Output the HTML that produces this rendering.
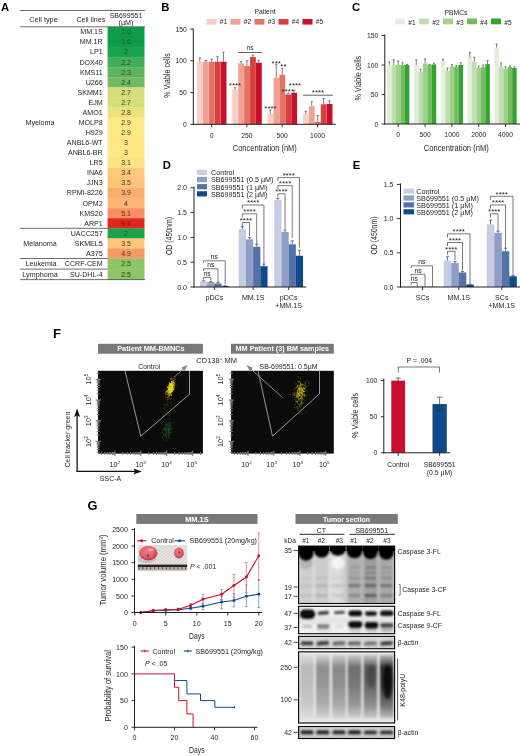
<!DOCTYPE html><html><head><meta charset="utf-8"><style>html,body{margin:0;padding:0;background:#fff}svg{display:block;will-change:transform}text{font-family:"Liberation Sans",sans-serif}</style></head><body>
<svg width="520" height="756" viewBox="0 0 520 756">
<rect width="520" height="756" fill="#fff"/>
<g fill="#231f20">
<text x="0.9" y="10.6" font-size="11.3" font-weight="bold" fill="#000">A</text>
<line x1="20" y1="10.5" x2="145" y2="10.5" stroke="#4a4a4a" stroke-width="0.8" />
<line x1="20" y1="26.8" x2="145" y2="26.8" stroke="#4a4a4a" stroke-width="0.8" />
<text x="43.5" y="22.1" font-size="7.3" text-anchor="middle">Cell type</text>
<text x="90.8" y="22.1" font-size="7.1" text-anchor="middle">Cell lines</text>
<text x="126" y="18" font-size="7" text-anchor="middle">SB699551</text>
<text x="126" y="24.8" font-size="7.2" text-anchor="middle">(µM)</text>
<rect x="107.60" y="26.90" width="36.90" height="10.37" fill="#0f9b48" />
<rect x="107.60" y="36.97" width="36.90" height="10.37" fill="#0f9b48" />
<rect x="107.60" y="47.04" width="36.90" height="10.37" fill="#1aa14b" />
<rect x="107.60" y="57.11" width="36.90" height="10.37" fill="#41ae5a" />
<rect x="107.60" y="67.18" width="36.90" height="10.37" fill="#5cb460" />
<rect x="107.60" y="77.25" width="36.90" height="10.37" fill="#73ba66" />
<rect x="107.60" y="87.32" width="36.90" height="10.37" fill="#d3dc7b" />
<rect x="107.60" y="97.39" width="36.90" height="10.37" fill="#d6dd7c" />
<rect x="107.60" y="107.46" width="36.90" height="10.37" fill="#ece27f" />
<rect x="107.60" y="117.53" width="36.90" height="10.37" fill="#fde984" />
<rect x="107.60" y="127.60" width="36.90" height="10.37" fill="#fde984" />
<rect x="107.60" y="137.67" width="36.90" height="10.37" fill="#ffe783" />
<rect x="107.60" y="147.74" width="36.90" height="10.37" fill="#ffe783" />
<rect x="107.60" y="157.81" width="36.90" height="10.37" fill="#fee182" />
<rect x="107.60" y="167.88" width="36.90" height="10.37" fill="#fdc97c" />
<rect x="107.60" y="177.95" width="36.90" height="10.37" fill="#fdc47a" />
<rect x="107.60" y="188.02" width="36.90" height="10.37" fill="#fbad70" />
<rect x="107.60" y="198.09" width="36.90" height="10.37" fill="#fbb676" />
<rect x="107.60" y="208.16" width="36.90" height="10.37" fill="#f78f60" />
<rect x="107.60" y="218.23" width="36.90" height="10.37" fill="#e1261f" />
<rect x="107.60" y="228.30" width="36.90" height="10.37" fill="#1aa14b" />
<rect x="107.60" y="238.37" width="36.90" height="10.37" fill="#fdc67b" />
<rect x="107.60" y="248.44" width="36.90" height="10.37" fill="#f89a66" />
<rect x="107.60" y="258.51" width="36.90" height="10.90" fill="#8dc567" />
<rect x="107.60" y="269.11" width="36.90" height="10.80" fill="#8dc567" />
<text x="102.7" y="34.34" font-size="7.1" text-anchor="end">MM.1S</text>
<text x="126" y="34.34" font-size="7" text-anchor="middle" fill="#0b5a2c">1.6</text>
<text x="102.7" y="44.4" font-size="7.1" text-anchor="end">MM.1R</text>
<text x="126" y="44.4" font-size="7" text-anchor="middle" fill="#0b5a2c">1.6</text>
<text x="102.7" y="54.48" font-size="7.1" text-anchor="end">LP1</text>
<text x="126" y="54.48" font-size="7" text-anchor="middle" fill="#0b5a2c">2</text>
<text x="102.7" y="64.55" font-size="7.1" text-anchor="end">DOX40</text>
<text x="126" y="64.55" font-size="7" text-anchor="middle" fill="#3a3a1a">2.2</text>
<text x="102.7" y="74.62" font-size="7.1" text-anchor="end">KMS11</text>
<text x="126" y="74.62" font-size="7" text-anchor="middle" fill="#3a3a1a">2.3</text>
<text x="102.7" y="84.69" font-size="7.1" text-anchor="end">U266</text>
<text x="126" y="84.69" font-size="7" text-anchor="middle" fill="#3a3a1a">2.4</text>
<text x="102.7" y="94.76" font-size="7.1" text-anchor="end">SKMM1</text>
<text x="126" y="94.76" font-size="7" text-anchor="middle" fill="#3a3a1a">2.7</text>
<text x="102.7" y="104.83" font-size="7.1" text-anchor="end">EJM</text>
<text x="126" y="104.83" font-size="7" text-anchor="middle" fill="#3a3a1a">2.7</text>
<text x="102.7" y="114.9" font-size="7.1" text-anchor="end">AMO1</text>
<text x="126" y="114.9" font-size="7" text-anchor="middle" fill="#3a3a1a">2.8</text>
<text x="102.7" y="124.97" font-size="7.1" text-anchor="end">MOLP8</text>
<text x="126" y="124.97" font-size="7" text-anchor="middle" fill="#3a3a1a">2.9</text>
<text x="102.7" y="135.03" font-size="7.1" text-anchor="end">H929</text>
<text x="126" y="135.03" font-size="7" text-anchor="middle" fill="#3a3a1a">2.9</text>
<text x="102.7" y="145.11" font-size="7.1" text-anchor="end">ANBL6-WT</text>
<text x="126" y="145.11" font-size="7" text-anchor="middle" fill="#3a3a1a">3</text>
<text x="102.7" y="155.18" font-size="7.1" text-anchor="end">ANBL6-BR</text>
<text x="126" y="155.18" font-size="7" text-anchor="middle" fill="#3a3a1a">3</text>
<text x="102.7" y="165.25" font-size="7.1" text-anchor="end">LR5</text>
<text x="126" y="165.25" font-size="7" text-anchor="middle" fill="#3a3a1a">3.1</text>
<text x="102.7" y="175.32" font-size="7.1" text-anchor="end">INA6</text>
<text x="126" y="175.32" font-size="7" text-anchor="middle" fill="#3a3a1a">3.4</text>
<text x="102.7" y="185.39" font-size="7.1" text-anchor="end">JJN3</text>
<text x="126" y="185.39" font-size="7" text-anchor="middle" fill="#3a3a1a">3.5</text>
<text x="102.7" y="195.46" font-size="7.1" text-anchor="end">RPMI-8226</text>
<text x="126" y="195.46" font-size="7" text-anchor="middle" fill="#3a3a1a">3.9</text>
<text x="102.7" y="205.53" font-size="7.1" text-anchor="end">OPM2</text>
<text x="126" y="205.53" font-size="7" text-anchor="middle" fill="#3a3a1a">4</text>
<text x="102.7" y="215.59" font-size="7.1" text-anchor="end">KMS20</text>
<text x="126" y="215.59" font-size="7" text-anchor="middle" fill="#3a3a1a">5.1</text>
<text x="102.7" y="225.67" font-size="7.1" text-anchor="end">ARP1</text>
<text x="126" y="225.67" font-size="7" text-anchor="middle" fill="#7a1010">9.4</text>
<text x="102.7" y="235.74" font-size="7.1" text-anchor="end">UACC257</text>
<text x="126" y="235.74" font-size="7" text-anchor="middle" fill="#0b5a2c">2</text>
<text x="102.7" y="245.81" font-size="7.1" text-anchor="end">SKMEL5</text>
<text x="126" y="245.81" font-size="7" text-anchor="middle" fill="#3a3a1a">3.5</text>
<text x="102.7" y="255.88" font-size="7.1" text-anchor="end">A375</text>
<text x="126" y="255.88" font-size="7" text-anchor="middle" fill="#3a3a1a">4.9</text>
<text x="102.7" y="266.21" font-size="7.1" text-anchor="end">CCRF-CEM</text>
<text x="126" y="266.21" font-size="7" text-anchor="middle" fill="#3a3a1a">2.5</text>
<text x="102.7" y="276.76" font-size="7.1" text-anchor="end">SU-DHL-4</text>
<text x="126" y="276.76" font-size="7" text-anchor="middle" fill="#3a3a1a">2.5</text>
<text x="40" y="124.97" font-size="7.2" text-anchor="middle">Myeloma</text>
<text x="40" y="245.81" font-size="7.2" text-anchor="middle">Melanoma</text>
<text x="41" y="266.21" font-size="7.2" text-anchor="middle">Leukemia</text>
<text x="40" y="276.76" font-size="7.2" text-anchor="middle">Lymphoma</text>
<line x1="20" y1="228.3" x2="107.6" y2="228.3" stroke="#4a4a4a" stroke-width="0.8" />
<line x1="20" y1="258.51" x2="107.6" y2="258.51" stroke="#4a4a4a" stroke-width="0.8" />
<line x1="20" y1="269.11" x2="107.6" y2="269.11" stroke="#4a4a4a" stroke-width="0.8" />
<line x1="20" y1="279.61" x2="145" y2="279.61" stroke="#4a4a4a" stroke-width="0.8" />
<text x="161.3" y="10.6" font-size="11.3" font-weight="bold" fill="#000">B</text>
<text x="265" y="14.2" font-size="6.8" text-anchor="middle">Patient</text>
<rect x="206.50" y="19.00" width="10.00" height="5.60" fill="#f9cec7" />
<text x="219.8" y="24.3" font-size="6.6">#1</text>
<rect x="230.50" y="19.00" width="10.00" height="5.60" fill="#f0a296" />
<text x="243.8" y="24.3" font-size="6.6">#2</text>
<rect x="254.50" y="19.00" width="10.00" height="5.60" fill="#e57262" />
<text x="267.8" y="24.3" font-size="6.6">#3</text>
<rect x="278.50" y="19.00" width="10.00" height="5.60" fill="#d8403d" />
<text x="291.8" y="24.3" font-size="6.6">#4</text>
<rect x="302.50" y="19.00" width="10.00" height="5.60" fill="#c8102e" />
<text x="315.8" y="24.3" font-size="6.6">#5</text>
<rect x="197.00" y="61.75" width="5.80" height="62.55" fill="#f9cec7" />
<line x1="199.785" y1="57.942499999999995" x2="199.785" y2="61.7525" stroke="#4a4a4a" stroke-width="0.7" />
<line x1="198.585" y1="57.942499999999995" x2="200.98499999999999" y2="57.942499999999995" stroke="#4a4a4a" stroke-width="0.7" />
<rect x="202.92" y="61.75" width="5.80" height="62.55" fill="#f0a296" />
<line x1="205.70499999999998" y1="60.482499999999995" x2="205.70499999999998" y2="61.7525" stroke="#4a4a4a" stroke-width="0.7" />
<line x1="204.505" y1="60.482499999999995" x2="206.90499999999997" y2="60.482499999999995" stroke="#4a4a4a" stroke-width="0.7" />
<rect x="208.84" y="61.75" width="5.80" height="62.55" fill="#e57262" />
<line x1="211.625" y1="59.21249999999999" x2="211.625" y2="61.7525" stroke="#4a4a4a" stroke-width="0.7" />
<line x1="210.425" y1="59.21249999999999" x2="212.825" y2="59.21249999999999" stroke="#4a4a4a" stroke-width="0.7" />
<rect x="214.76" y="61.75" width="5.80" height="62.55" fill="#d8403d" />
<line x1="217.545" y1="56.6725" x2="217.545" y2="61.7525" stroke="#4a4a4a" stroke-width="0.7" />
<line x1="216.345" y1="56.6725" x2="218.74499999999998" y2="56.6725" stroke="#4a4a4a" stroke-width="0.7" />
<rect x="220.68" y="61.75" width="5.80" height="62.55" fill="#c8102e" />
<line x1="223.465" y1="52.22749999999999" x2="223.465" y2="61.7525" stroke="#4a4a4a" stroke-width="0.7" />
<line x1="222.26500000000001" y1="52.22749999999999" x2="224.665" y2="52.22749999999999" stroke="#4a4a4a" stroke-width="0.7" />
<rect x="232.30" y="89.57" width="5.80" height="34.73" fill="#f9cec7" />
<line x1="235.085" y1="87.66049999999998" x2="235.085" y2="89.56549999999999" stroke="#4a4a4a" stroke-width="0.7" />
<line x1="233.88500000000002" y1="87.66049999999998" x2="236.285" y2="87.66049999999998" stroke="#4a4a4a" stroke-width="0.7" />
<rect x="238.22" y="63.34" width="5.80" height="60.96" fill="#f0a296" />
<line x1="241.005" y1="61.434999999999995" x2="241.005" y2="63.339999999999996" stroke="#4a4a4a" stroke-width="0.7" />
<line x1="239.805" y1="61.434999999999995" x2="242.20499999999998" y2="61.434999999999995" stroke="#4a4a4a" stroke-width="0.7" />
<rect x="244.14" y="65.88" width="5.80" height="58.42" fill="#e57262" />
<line x1="246.925" y1="60.8" x2="246.925" y2="65.88" stroke="#4a4a4a" stroke-width="0.7" />
<line x1="245.72500000000002" y1="60.8" x2="248.125" y2="60.8" stroke="#4a4a4a" stroke-width="0.7" />
<rect x="250.06" y="56.99" width="5.80" height="67.31" fill="#d8403d" />
<line x1="252.845" y1="55.084999999999994" x2="252.845" y2="56.989999999999995" stroke="#4a4a4a" stroke-width="0.7" />
<line x1="251.645" y1="55.084999999999994" x2="254.045" y2="55.084999999999994" stroke="#4a4a4a" stroke-width="0.7" />
<rect x="255.98" y="62.70" width="5.80" height="61.59" fill="#c8102e" />
<line x1="258.76500000000004" y1="60.16499999999999" x2="258.76500000000004" y2="62.705" stroke="#4a4a4a" stroke-width="0.7" />
<line x1="257.56500000000005" y1="60.16499999999999" x2="259.96500000000003" y2="60.16499999999999" stroke="#4a4a4a" stroke-width="0.7" />
<rect x="267.60" y="113.82" width="5.80" height="10.48" fill="#f9cec7" />
<line x1="270.38500000000005" y1="110.0125" x2="270.38500000000005" y2="113.82249999999999" stroke="#4a4a4a" stroke-width="0.7" />
<line x1="269.18500000000006" y1="110.0125" x2="271.58500000000004" y2="110.0125" stroke="#4a4a4a" stroke-width="0.7" />
<rect x="273.52" y="77.69" width="5.80" height="46.61" fill="#f0a296" />
<line x1="276.30500000000006" y1="64.356" x2="276.30500000000006" y2="77.691" stroke="#4a4a4a" stroke-width="0.7" />
<line x1="275.1050000000001" y1="64.356" x2="277.50500000000005" y2="64.356" stroke="#4a4a4a" stroke-width="0.7" />
<rect x="279.44" y="74.77" width="5.80" height="49.53" fill="#e57262" />
<line x1="282.225" y1="68.41999999999999" x2="282.225" y2="74.77" stroke="#4a4a4a" stroke-width="0.7" />
<line x1="281.02500000000003" y1="68.41999999999999" x2="283.425" y2="68.41999999999999" stroke="#4a4a4a" stroke-width="0.7" />
<rect x="285.36" y="94.45" width="5.80" height="29.84" fill="#d8403d" />
<line x1="288.14500000000004" y1="93.185" x2="288.14500000000004" y2="94.455" stroke="#4a4a4a" stroke-width="0.7" />
<line x1="286.94500000000005" y1="93.185" x2="289.345" y2="93.185" stroke="#4a4a4a" stroke-width="0.7" />
<rect x="291.28" y="92.74" width="5.80" height="31.56" fill="#c8102e" />
<line x1="294.06500000000005" y1="90.2005" x2="294.06500000000005" y2="92.7405" stroke="#4a4a4a" stroke-width="0.7" />
<line x1="292.86500000000007" y1="90.2005" x2="295.26500000000004" y2="90.2005" stroke="#4a4a4a" stroke-width="0.7" />
<rect x="303.00" y="114.46" width="5.80" height="9.84" fill="#f9cec7" />
<line x1="305.785" y1="111.2825" x2="305.785" y2="114.4575" stroke="#4a4a4a" stroke-width="0.7" />
<line x1="304.58500000000004" y1="111.2825" x2="306.985" y2="111.2825" stroke="#4a4a4a" stroke-width="0.7" />
<rect x="308.92" y="106.20" width="5.80" height="18.10" fill="#f0a296" />
<line x1="311.70500000000004" y1="101.7575" x2="311.70500000000004" y2="106.2025" stroke="#4a4a4a" stroke-width="0.7" />
<line x1="310.50500000000005" y1="101.7575" x2="312.90500000000003" y2="101.7575" stroke="#4a4a4a" stroke-width="0.7" />
<rect x="314.84" y="121.95" width="5.80" height="2.35" fill="#e57262" />
<line x1="317.625" y1="115.6005" x2="317.625" y2="121.95049999999999" stroke="#4a4a4a" stroke-width="0.7" />
<line x1="316.425" y1="115.6005" x2="318.825" y2="115.6005" stroke="#4a4a4a" stroke-width="0.7" />
<rect x="320.76" y="104.30" width="5.80" height="20.00" fill="#d8403d" />
<line x1="323.545" y1="98.5825" x2="323.545" y2="104.2975" stroke="#4a4a4a" stroke-width="0.7" />
<line x1="322.345" y1="98.5825" x2="324.745" y2="98.5825" stroke="#4a4a4a" stroke-width="0.7" />
<rect x="326.68" y="103.98" width="5.80" height="20.32" fill="#c8102e" />
<line x1="329.46500000000003" y1="100.80499999999999" x2="329.46500000000003" y2="103.97999999999999" stroke="#4a4a4a" stroke-width="0.7" />
<line x1="328.26500000000004" y1="100.80499999999999" x2="330.665" y2="100.80499999999999" stroke="#4a4a4a" stroke-width="0.7" />
<line x1="193.3" y1="28.5" x2="193.3" y2="124.7" stroke="#231f20" stroke-width="1" />
<line x1="192.8" y1="124.3" x2="335.8" y2="124.3" stroke="#231f20" stroke-width="1" />
<line x1="190.3" y1="124.3" x2="193.3" y2="124.3" stroke="#231f20" stroke-width="0.9" />
<text transform="translate(186.70000000000002 126.89999999999999) scale(0.93 1)" font-size="7.3" text-anchor="end">0</text>
<line x1="190.3" y1="92.55" x2="193.3" y2="92.55" stroke="#231f20" stroke-width="0.9" />
<text transform="translate(186.70000000000002 95.14999999999999) scale(0.93 1)" font-size="7.3" text-anchor="end">50</text>
<line x1="190.3" y1="60.8" x2="193.3" y2="60.8" stroke="#231f20" stroke-width="0.9" />
<text transform="translate(186.70000000000002 63.4) scale(0.93 1)" font-size="7.3" text-anchor="end">100</text>
<line x1="190.3" y1="29.049999999999997" x2="193.3" y2="29.049999999999997" stroke="#231f20" stroke-width="0.9" />
<text transform="translate(186.70000000000002 31.65) scale(0.93 1)" font-size="7.3" text-anchor="end">150</text>
<line x1="211.60000000000002" y1="124.3" x2="211.60000000000002" y2="127.3" stroke="#231f20" stroke-width="0.9" />
<text transform="translate(211.60000000000002 137.6) scale(0.93 1)" font-size="7.3" text-anchor="middle">0</text>
<line x1="246.90000000000003" y1="124.3" x2="246.90000000000003" y2="127.3" stroke="#231f20" stroke-width="0.9" />
<text transform="translate(246.90000000000003 137.6) scale(0.93 1)" font-size="7.3" text-anchor="middle">250</text>
<line x1="282.20000000000005" y1="124.3" x2="282.20000000000005" y2="127.3" stroke="#231f20" stroke-width="0.9" />
<text transform="translate(282.20000000000005 137.6) scale(0.93 1)" font-size="7.3" text-anchor="middle">500</text>
<line x1="317.6" y1="124.3" x2="317.6" y2="127.3" stroke="#231f20" stroke-width="0.9" />
<text transform="translate(317.6 137.6) scale(0.93 1)" font-size="7.3" text-anchor="middle">1000</text>
<text transform="translate(169.6 75.5) rotate(-90)" font-size="9.4" text-anchor="middle" textLength="44.5" lengthAdjust="spacingAndGlyphs">% Viable cells</text>
<text transform="translate(264.8 151)" font-size="9.4" text-anchor="middle" textLength="64" lengthAdjust="spacingAndGlyphs">Concentration (nM)</text>
<line x1="238.3" y1="52.5" x2="262" y2="52.5" stroke="#231f20" stroke-width="0.7" />
<text x="250" y="49.8" font-size="6.6" text-anchor="middle">ns</text>
<line x1="303" y1="95.2" x2="333" y2="95.2" stroke="#231f20" stroke-width="0.7" />
<text x="318" y="95.2" font-size="8" text-anchor="middle">****</text>
<text x="235" y="87.8" font-size="8" text-anchor="middle">****</text>
<text x="270.5" y="111.2" font-size="8" text-anchor="middle">****</text>
<text x="276.2" y="66.4" font-size="8" text-anchor="middle">***</text>
<text x="283.4" y="69.0" font-size="8" text-anchor="middle">**</text>
<text x="287.8" y="93.6" font-size="8" text-anchor="middle">****</text>
<text x="295" y="88.0" font-size="8" text-anchor="middle">****</text>
<text x="351.9" y="10.6" font-size="11.3" font-weight="bold" fill="#000">C</text>
<text x="456" y="14.6" font-size="6.8" text-anchor="middle">PBMCs</text>
<rect x="395.00" y="18.50" width="10.00" height="5.80" fill="#e3efda" />
<text x="408.3" y="24.5" font-size="6.6">#1</text>
<rect x="419.00" y="18.50" width="10.00" height="5.80" fill="#bfe0ae" />
<text x="432.3" y="24.5" font-size="6.6">#2</text>
<rect x="443.00" y="18.50" width="10.00" height="5.80" fill="#9fd18a" />
<text x="456.3" y="24.5" font-size="6.6">#3</text>
<rect x="467.00" y="18.50" width="10.00" height="5.80" fill="#72bd5d" />
<text x="480.3" y="24.5" font-size="6.6">#4</text>
<rect x="491.00" y="18.50" width="10.00" height="5.80" fill="#33a532" />
<text x="504.3" y="24.5" font-size="6.6">#5</text>
<rect x="387.10" y="65.00" width="4.49" height="59.00" fill="#e3efda" />
<line x1="389.32000000000005" y1="62.050000000000004" x2="389.32000000000005" y2="65.0" stroke="#4a4a4a" stroke-width="0.7" />
<line x1="388.32000000000005" y1="62.050000000000004" x2="390.32000000000005" y2="62.050000000000004" stroke="#4a4a4a" stroke-width="0.7" />
<rect x="391.54" y="65.00" width="4.49" height="59.00" fill="#bfe0ae" />
<line x1="393.76000000000005" y1="59.69" x2="393.76000000000005" y2="65.0" stroke="#4a4a4a" stroke-width="0.7" />
<line x1="392.76000000000005" y1="59.69" x2="394.76000000000005" y2="59.69" stroke="#4a4a4a" stroke-width="0.7" />
<rect x="395.98" y="65.00" width="4.49" height="59.00" fill="#9fd18a" />
<line x1="398.20000000000005" y1="60.870000000000005" x2="398.20000000000005" y2="65.0" stroke="#4a4a4a" stroke-width="0.7" />
<line x1="397.20000000000005" y1="60.870000000000005" x2="399.20000000000005" y2="60.870000000000005" stroke="#4a4a4a" stroke-width="0.7" />
<rect x="400.42" y="65.00" width="4.49" height="59.00" fill="#72bd5d" />
<line x1="402.64000000000004" y1="62.64" x2="402.64000000000004" y2="65.0" stroke="#4a4a4a" stroke-width="0.7" />
<line x1="401.64000000000004" y1="62.64" x2="403.64000000000004" y2="62.64" stroke="#4a4a4a" stroke-width="0.7" />
<rect x="404.86" y="65.00" width="4.49" height="59.00" fill="#33a532" />
<line x1="407.08000000000004" y1="64.41" x2="407.08000000000004" y2="65.0" stroke="#4a4a4a" stroke-width="0.7" />
<line x1="406.08000000000004" y1="64.41" x2="408.08000000000004" y2="64.41" stroke="#4a4a4a" stroke-width="0.7" />
<rect x="414.00" y="65.00" width="4.49" height="59.00" fill="#e3efda" />
<line x1="416.22" y1="59.69" x2="416.22" y2="65.0" stroke="#4a4a4a" stroke-width="0.7" />
<line x1="415.22" y1="59.69" x2="417.22" y2="59.69" stroke="#4a4a4a" stroke-width="0.7" />
<rect x="418.44" y="71.49" width="4.49" height="52.51" fill="#bfe0ae" />
<line x1="420.66" y1="69.13" x2="420.66" y2="71.49000000000001" stroke="#4a4a4a" stroke-width="0.7" />
<line x1="419.66" y1="69.13" x2="421.66" y2="69.13" stroke="#4a4a4a" stroke-width="0.7" />
<rect x="422.88" y="63.53" width="4.49" height="60.47" fill="#9fd18a" />
<line x1="425.1" y1="58.80500000000001" x2="425.1" y2="63.525000000000006" stroke="#4a4a4a" stroke-width="0.7" />
<line x1="424.1" y1="58.80500000000001" x2="426.1" y2="58.80500000000001" stroke="#4a4a4a" stroke-width="0.7" />
<rect x="427.32" y="65.00" width="4.49" height="59.00" fill="#72bd5d" />
<line x1="429.54" y1="64.41" x2="429.54" y2="65.0" stroke="#4a4a4a" stroke-width="0.7" />
<line x1="428.54" y1="64.41" x2="430.54" y2="64.41" stroke="#4a4a4a" stroke-width="0.7" />
<rect x="431.76" y="64.41" width="4.49" height="59.59" fill="#33a532" />
<line x1="433.98" y1="63.230000000000004" x2="433.98" y2="64.41" stroke="#4a4a4a" stroke-width="0.7" />
<line x1="432.98" y1="63.230000000000004" x2="434.98" y2="63.230000000000004" stroke="#4a4a4a" stroke-width="0.7" />
<rect x="440.80" y="61.46" width="4.49" height="62.54" fill="#e3efda" />
<line x1="443.02000000000004" y1="59.10000000000001" x2="443.02000000000004" y2="61.46" stroke="#4a4a4a" stroke-width="0.7" />
<line x1="442.02000000000004" y1="59.10000000000001" x2="444.02000000000004" y2="59.10000000000001" stroke="#4a4a4a" stroke-width="0.7" />
<rect x="445.24" y="70.90" width="4.49" height="53.10" fill="#bfe0ae" />
<line x1="447.46000000000004" y1="67.95" x2="447.46000000000004" y2="70.9" stroke="#4a4a4a" stroke-width="0.7" />
<line x1="446.46000000000004" y1="67.95" x2="448.46000000000004" y2="67.95" stroke="#4a4a4a" stroke-width="0.7" />
<rect x="449.68" y="66.47" width="4.49" height="57.52" fill="#9fd18a" />
<line x1="451.90000000000003" y1="64.70500000000001" x2="451.90000000000003" y2="66.475" stroke="#4a4a4a" stroke-width="0.7" />
<line x1="450.90000000000003" y1="64.70500000000001" x2="452.90000000000003" y2="64.70500000000001" stroke="#4a4a4a" stroke-width="0.7" />
<rect x="454.12" y="66.77" width="4.49" height="57.23" fill="#72bd5d" />
<line x1="456.34000000000003" y1="65.59" x2="456.34000000000003" y2="66.77000000000001" stroke="#4a4a4a" stroke-width="0.7" />
<line x1="455.34000000000003" y1="65.59" x2="457.34000000000003" y2="65.59" stroke="#4a4a4a" stroke-width="0.7" />
<rect x="458.56" y="65.00" width="4.49" height="59.00" fill="#33a532" />
<line x1="460.78000000000003" y1="62.64" x2="460.78000000000003" y2="65.0" stroke="#4a4a4a" stroke-width="0.7" />
<line x1="459.78000000000003" y1="62.64" x2="461.78000000000003" y2="62.64" stroke="#4a4a4a" stroke-width="0.7" />
<rect x="467.60" y="57.51" width="4.49" height="66.49" fill="#e3efda" />
<line x1="469.82000000000005" y1="52.197" x2="469.82000000000005" y2="57.507000000000005" stroke="#4a4a4a" stroke-width="0.7" />
<line x1="468.82000000000005" y1="52.197" x2="470.82000000000005" y2="52.197" stroke="#4a4a4a" stroke-width="0.7" />
<rect x="472.04" y="61.46" width="4.49" height="62.54" fill="#bfe0ae" />
<line x1="474.26000000000005" y1="57.33" x2="474.26000000000005" y2="61.46" stroke="#4a4a4a" stroke-width="0.7" />
<line x1="473.26000000000005" y1="57.33" x2="475.26000000000005" y2="57.33" stroke="#4a4a4a" stroke-width="0.7" />
<rect x="476.48" y="67.95" width="4.49" height="56.05" fill="#9fd18a" />
<line x1="478.70000000000005" y1="66.18" x2="478.70000000000005" y2="67.95" stroke="#4a4a4a" stroke-width="0.7" />
<line x1="477.70000000000005" y1="66.18" x2="479.70000000000005" y2="66.18" stroke="#4a4a4a" stroke-width="0.7" />
<rect x="480.92" y="67.36" width="4.49" height="56.64" fill="#72bd5d" />
<line x1="483.14000000000004" y1="65.0" x2="483.14000000000004" y2="67.36" stroke="#4a4a4a" stroke-width="0.7" />
<line x1="482.14000000000004" y1="65.0" x2="484.14000000000004" y2="65.0" stroke="#4a4a4a" stroke-width="0.7" />
<rect x="485.36" y="64.12" width="4.49" height="59.88" fill="#33a532" />
<line x1="487.58000000000004" y1="60.575" x2="487.58000000000004" y2="64.11500000000001" stroke="#4a4a4a" stroke-width="0.7" />
<line x1="486.58000000000004" y1="60.575" x2="488.58000000000004" y2="60.575" stroke="#4a4a4a" stroke-width="0.7" />
<rect x="494.40" y="47.59" width="4.49" height="76.41" fill="#e3efda" />
<line x1="496.62" y1="44.05500000000001" x2="496.62" y2="47.595" stroke="#4a4a4a" stroke-width="0.7" />
<line x1="495.62" y1="44.05500000000001" x2="497.62" y2="44.05500000000001" stroke="#4a4a4a" stroke-width="0.7" />
<rect x="498.84" y="66.47" width="4.49" height="57.52" fill="#bfe0ae" />
<line x1="501.06" y1="62.935" x2="501.06" y2="66.475" stroke="#4a4a4a" stroke-width="0.7" />
<line x1="500.06" y1="62.935" x2="502.06" y2="62.935" stroke="#4a4a4a" stroke-width="0.7" />
<rect x="503.28" y="68.54" width="4.49" height="55.46" fill="#9fd18a" />
<line x1="505.5" y1="66.77000000000001" x2="505.5" y2="68.54" stroke="#4a4a4a" stroke-width="0.7" />
<line x1="504.5" y1="66.77000000000001" x2="506.5" y2="66.77000000000001" stroke="#4a4a4a" stroke-width="0.7" />
<rect x="507.72" y="67.06" width="4.49" height="56.93" fill="#72bd5d" />
<line x1="509.94" y1="65.885" x2="509.94" y2="67.065" stroke="#4a4a4a" stroke-width="0.7" />
<line x1="508.94" y1="65.885" x2="510.94" y2="65.885" stroke="#4a4a4a" stroke-width="0.7" />
<rect x="512.16" y="67.95" width="4.49" height="56.05" fill="#33a532" />
<line x1="514.38" y1="66.77000000000001" x2="514.38" y2="67.95" stroke="#4a4a4a" stroke-width="0.7" />
<line x1="513.38" y1="66.77000000000001" x2="515.38" y2="66.77000000000001" stroke="#4a4a4a" stroke-width="0.7" />
<line x1="384.8" y1="34.5" x2="384.8" y2="124.4" stroke="#231f20" stroke-width="1" />
<line x1="384.3" y1="124.0" x2="520" y2="124.0" stroke="#231f20" stroke-width="1" />
<line x1="381.8" y1="124.0" x2="384.8" y2="124.0" stroke="#231f20" stroke-width="0.9" />
<text transform="translate(378.2 126.6) scale(0.93 1)" font-size="7.3" text-anchor="end">0</text>
<line x1="381.8" y1="94.5" x2="384.8" y2="94.5" stroke="#231f20" stroke-width="0.9" />
<text transform="translate(378.2 97.1) scale(0.93 1)" font-size="7.3" text-anchor="end">50</text>
<line x1="381.8" y1="65.0" x2="384.8" y2="65.0" stroke="#231f20" stroke-width="0.9" />
<text transform="translate(378.2 67.6) scale(0.93 1)" font-size="7.3" text-anchor="end">100</text>
<line x1="381.8" y1="35.5" x2="384.8" y2="35.5" stroke="#231f20" stroke-width="0.9" />
<text transform="translate(378.2 38.1) scale(0.93 1)" font-size="7.3" text-anchor="end">150</text>
<line x1="398.20000000000005" y1="124.0" x2="398.20000000000005" y2="127.0" stroke="#231f20" stroke-width="0.9" />
<text transform="translate(398.20000000000005 137.2) scale(0.93 1)" font-size="7.3" text-anchor="middle">0</text>
<line x1="425.1" y1="124.0" x2="425.1" y2="127.0" stroke="#231f20" stroke-width="0.9" />
<text transform="translate(425.1 137.2) scale(0.93 1)" font-size="7.3" text-anchor="middle">500</text>
<line x1="451.90000000000003" y1="124.0" x2="451.90000000000003" y2="127.0" stroke="#231f20" stroke-width="0.9" />
<text transform="translate(451.90000000000003 137.2) scale(0.93 1)" font-size="7.3" text-anchor="middle">1000</text>
<line x1="478.70000000000005" y1="124.0" x2="478.70000000000005" y2="127.0" stroke="#231f20" stroke-width="0.9" />
<text transform="translate(478.70000000000005 137.2) scale(0.93 1)" font-size="7.3" text-anchor="middle">2000</text>
<line x1="505.5" y1="124.0" x2="505.5" y2="127.0" stroke="#231f20" stroke-width="0.9" />
<text transform="translate(505.5 137.2) scale(0.93 1)" font-size="7.3" text-anchor="middle">4000</text>
<text transform="translate(360.7 78.2) rotate(-90)" font-size="9.4" text-anchor="middle" textLength="44.6" lengthAdjust="spacingAndGlyphs">% Viable cells</text>
<text transform="translate(456.3 151.2)" font-size="9.4" text-anchor="middle" textLength="65" lengthAdjust="spacingAndGlyphs">Concentration (nM)</text>
<text x="162.7" y="168.8" font-size="11.3" font-weight="bold" fill="#000">D</text>
<rect x="197.00" y="169.80" width="10.00" height="5.20" fill="#c6cce4" />
<text x="211" y="175.3" font-size="7.2">Control</text>
<rect x="197.00" y="176.95" width="10.00" height="5.20" fill="#8f9dc7" />
<text x="211" y="182.45000000000002" font-size="7.2">SB699551 (0.5 µM)</text>
<rect x="197.00" y="184.10" width="10.00" height="5.20" fill="#5571a9" />
<text x="211" y="189.60000000000002" font-size="7.2">SB699551 (1 µM)</text>
<rect x="197.00" y="191.25" width="10.00" height="5.20" fill="#0f4a8a" />
<text x="211" y="196.75" font-size="7.2">SB699551 (2 µM)</text>
<rect x="200.00" y="281.30" width="7.24" height="5.70" fill="#c6cce4" />
<line x1="203.595" y1="280.8" x2="203.595" y2="281.296" stroke="#2b3d66" stroke-width="0.7" />
<line x1="201.995" y1="280.8" x2="205.195" y2="280.8" stroke="#2b3d66" stroke-width="0.7" />
<rect x="207.19" y="282.04" width="7.24" height="4.96" fill="#8f9dc7" />
<line x1="210.785" y1="281.544" x2="210.785" y2="282.04" stroke="#2b3d66" stroke-width="0.7" />
<line x1="209.185" y1="281.544" x2="212.385" y2="281.544" stroke="#2b3d66" stroke-width="0.7" />
<rect x="214.38" y="283.53" width="7.24" height="3.47" fill="#5571a9" />
<line x1="217.975" y1="282.536" x2="217.975" y2="283.528" stroke="#2b3d66" stroke-width="0.7" />
<line x1="216.375" y1="282.536" x2="219.575" y2="282.536" stroke="#2b3d66" stroke-width="0.7" />
<rect x="221.57" y="286.01" width="7.24" height="0.99" fill="#0f4a8a" />
<line x1="225.165" y1="285.76" x2="225.165" y2="286.008" stroke="#2b3d66" stroke-width="0.7" />
<line x1="223.565" y1="285.76" x2="226.765" y2="285.76" stroke="#2b3d66" stroke-width="0.7" />
<rect x="238.75" y="229.22" width="7.24" height="57.78" fill="#c6cce4" />
<line x1="242.345" y1="226.736" x2="242.345" y2="229.216" stroke="#2b3d66" stroke-width="0.7" />
<line x1="240.745" y1="226.736" x2="243.945" y2="226.736" stroke="#2b3d66" stroke-width="0.7" />
<rect x="245.94" y="239.38" width="7.24" height="47.62" fill="#8f9dc7" />
<line x1="249.535" y1="237.4" x2="249.535" y2="239.38400000000001" stroke="#2b3d66" stroke-width="0.7" />
<line x1="247.935" y1="237.4" x2="251.135" y2="237.4" stroke="#2b3d66" stroke-width="0.7" />
<rect x="253.13" y="246.82" width="7.24" height="40.18" fill="#5571a9" />
<line x1="256.725" y1="244.344" x2="256.725" y2="246.824" stroke="#2b3d66" stroke-width="0.7" />
<line x1="255.12500000000003" y1="244.344" x2="258.32500000000005" y2="244.344" stroke="#2b3d66" stroke-width="0.7" />
<rect x="260.32" y="266.17" width="7.24" height="20.83" fill="#0f4a8a" />
<line x1="263.915" y1="264.184" x2="263.915" y2="266.168" stroke="#2b3d66" stroke-width="0.7" />
<line x1="262.315" y1="264.184" x2="265.51500000000004" y2="264.184" stroke="#2b3d66" stroke-width="0.7" />
<rect x="274.25" y="199.95" width="7.24" height="87.05" fill="#c6cce4" />
<line x1="277.845" y1="198.464" x2="277.845" y2="199.952" stroke="#2b3d66" stroke-width="0.7" />
<line x1="276.245" y1="198.464" x2="279.44500000000005" y2="198.464" stroke="#2b3d66" stroke-width="0.7" />
<rect x="281.44" y="231.94" width="7.24" height="55.06" fill="#8f9dc7" />
<line x1="285.035" y1="229.95999999999998" x2="285.035" y2="231.944" stroke="#2b3d66" stroke-width="0.7" />
<line x1="283.435" y1="229.95999999999998" x2="286.63500000000005" y2="229.95999999999998" stroke="#2b3d66" stroke-width="0.7" />
<rect x="288.63" y="244.34" width="7.24" height="42.66" fill="#5571a9" />
<line x1="292.225" y1="240.872" x2="292.225" y2="244.344" stroke="#2b3d66" stroke-width="0.7" />
<line x1="290.625" y1="240.872" x2="293.82500000000005" y2="240.872" stroke="#2b3d66" stroke-width="0.7" />
<rect x="295.82" y="255.75" width="7.24" height="31.25" fill="#0f4a8a" />
<line x1="299.415" y1="250.296" x2="299.415" y2="255.752" stroke="#2b3d66" stroke-width="0.7" />
<line x1="297.815" y1="250.296" x2="301.01500000000004" y2="250.296" stroke="#2b3d66" stroke-width="0.7" />
<line x1="194" y1="186.5" x2="194" y2="287.4" stroke="#231f20" stroke-width="1" />
<line x1="193.5" y1="287" x2="306.2" y2="287" stroke="#231f20" stroke-width="1" />
<line x1="190.4" y1="287.0" x2="194" y2="287.0" stroke="#231f20" stroke-width="0.9" />
<text x="187" y="289.5" font-size="7" text-anchor="end">0.0</text>
<line x1="190.4" y1="262.2" x2="194" y2="262.2" stroke="#231f20" stroke-width="0.9" />
<text x="187" y="264.7" font-size="7" text-anchor="end">0.5</text>
<line x1="190.4" y1="237.4" x2="194" y2="237.4" stroke="#231f20" stroke-width="0.9" />
<text x="187" y="239.9" font-size="7" text-anchor="end">1.0</text>
<line x1="190.4" y1="212.6" x2="194" y2="212.6" stroke="#231f20" stroke-width="0.9" />
<text x="187" y="215.1" font-size="7" text-anchor="end">1.5</text>
<line x1="190.4" y1="187.8" x2="194" y2="187.8" stroke="#231f20" stroke-width="0.9" />
<text x="187" y="190.3" font-size="7" text-anchor="end">2.0</text>
<line x1="214.38" y1="287" x2="214.38" y2="290" stroke="#231f20" stroke-width="0.9" />
<text x="214.38" y="300.2" font-size="7.1" text-anchor="middle">pDCs</text>
<line x1="253.13" y1="287" x2="253.13" y2="290" stroke="#231f20" stroke-width="0.9" />
<text x="253.13" y="300.2" font-size="7.1" text-anchor="middle">MM.1S</text>
<line x1="288.63" y1="287" x2="288.63" y2="290" stroke="#231f20" stroke-width="0.9" />
<text x="288.63" y="300.2" font-size="7.1" text-anchor="middle">pDCs</text>
<text x="288.63" y="308.4" font-size="7.1" text-anchor="middle">+MM.1S</text>
<text transform="translate(171.5 236) rotate(-90) scale(0.7 1)" font-size="9.9" text-anchor="middle">OD (450nm)</text>
<path d="M203.595 279.7V277.5H210.785V280.5" stroke="#231f20" stroke-width="0.6" fill="none" />
<text x="207.19" y="275.6" font-size="6.8" text-anchor="middle">ns</text>
<path d="M203.595 271.0V268.8H217.975V282" stroke="#231f20" stroke-width="0.6" fill="none" />
<text x="210.785" y="267" font-size="6.8" text-anchor="middle">ns</text>
<path d="M203.595 263.0V260.8H225.165V284.5" stroke="#231f20" stroke-width="0.6" fill="none" />
<text x="214.38" y="259" font-size="6.8" text-anchor="middle">ns</text>
<path d="M242.345 226.1V222.5H249.535V236" stroke="#231f20" stroke-width="0.6" fill="none" />
<text x="245.94" y="222.8" font-size="8" text-anchor="middle">****</text>
<path d="M242.345 217.4V213.8H256.725V243.8" stroke="#231f20" stroke-width="0.6" fill="none" />
<text x="249.53500000000003" y="214.1" font-size="8" text-anchor="middle">****</text>
<path d="M242.345 208.6V205H263.915V263.8" stroke="#231f20" stroke-width="0.6" fill="none" />
<text x="253.13" y="205.3" font-size="8" text-anchor="middle">****</text>
<path d="M277.845 197.4V193.8H285.035V228.8" stroke="#231f20" stroke-width="0.6" fill="none" />
<text x="281.44000000000005" y="194.1" font-size="8" text-anchor="middle">****</text>
<path d="M277.845 189.29999999999998V185.7H292.225V238" stroke="#231f20" stroke-width="0.6" fill="none" />
<text x="285.035" y="186.0" font-size="8" text-anchor="middle">****</text>
<path d="M277.845 181.2V177.6H299.415V247.5" stroke="#231f20" stroke-width="0.6" fill="none" />
<text x="288.63" y="177.9" font-size="8" text-anchor="middle">****</text>
<text x="352.7" y="168.8" font-size="11.3" font-weight="bold" fill="#000">E</text>
<rect x="403.50" y="188.50" width="10.50" height="5.20" fill="#c6cce4" />
<text x="416.3" y="194.0" font-size="7.2">Control</text>
<rect x="403.50" y="195.40" width="10.50" height="5.20" fill="#8f9dc7" />
<text x="416.3" y="200.9" font-size="7.2">SB699551 (0.5 µM)</text>
<rect x="403.50" y="202.30" width="10.50" height="5.20" fill="#5571a9" />
<text x="416.3" y="207.8" font-size="7.2">SB699551 (1 µM)</text>
<rect x="403.50" y="209.20" width="10.50" height="5.20" fill="#0f4a8a" />
<text x="416.3" y="214.7" font-size="7.2">SB699551 (2 µM)</text>
<rect x="407.50" y="286.73" width="7.55" height="0.27" fill="#c6cce4" />
<rect x="415.00" y="286.73" width="7.55" height="0.27" fill="#8f9dc7" />
<rect x="422.50" y="286.73" width="7.55" height="0.27" fill="#5571a9" />
<rect x="430.00" y="286.73" width="7.55" height="0.27" fill="#0f4a8a" />
<rect x="443.75" y="260.53" width="7.55" height="26.47" fill="#c6cce4" />
<line x1="447.5" y1="256.7672" x2="447.5" y2="260.5292" stroke="#2b3d66" stroke-width="0.7" />
<line x1="445.9" y1="256.7672" x2="449.1" y2="256.7672" stroke="#2b3d66" stroke-width="0.7" />
<rect x="451.25" y="263.06" width="7.55" height="23.94" fill="#8f9dc7" />
<line x1="455.0" y1="261.692" x2="455.0" y2="263.06" stroke="#2b3d66" stroke-width="0.7" />
<line x1="453.4" y1="261.692" x2="456.6" y2="261.692" stroke="#2b3d66" stroke-width="0.7" />
<rect x="458.75" y="272.50" width="7.55" height="14.50" fill="#5571a9" />
<line x1="462.5" y1="271.4732" x2="462.5" y2="272.4992" stroke="#2b3d66" stroke-width="0.7" />
<line x1="460.9" y1="271.4732" x2="464.1" y2="271.4732" stroke="#2b3d66" stroke-width="0.7" />
<rect x="466.25" y="284.47" width="7.55" height="2.53" fill="#0f4a8a" />
<line x1="470.0" y1="283.922" x2="470.0" y2="284.4692" stroke="#2b3d66" stroke-width="0.7" />
<line x1="468.4" y1="283.922" x2="471.6" y2="283.922" stroke="#2b3d66" stroke-width="0.7" />
<rect x="486.75" y="224.28" width="7.55" height="62.72" fill="#c6cce4" />
<line x1="490.5" y1="220.1732" x2="490.5" y2="224.2772" stroke="#2b3d66" stroke-width="0.7" />
<line x1="488.9" y1="220.1732" x2="492.1" y2="220.1732" stroke="#2b3d66" stroke-width="0.7" />
<rect x="494.25" y="232.96" width="7.55" height="54.04" fill="#8f9dc7" />
<line x1="498.0" y1="231.254" x2="498.0" y2="232.964" stroke="#2b3d66" stroke-width="0.7" />
<line x1="496.4" y1="231.254" x2="499.6" y2="231.254" stroke="#2b3d66" stroke-width="0.7" />
<rect x="501.75" y="251.23" width="7.55" height="35.77" fill="#5571a9" />
<line x1="505.5" y1="248.1488" x2="505.5" y2="251.2268" stroke="#2b3d66" stroke-width="0.7" />
<line x1="503.9" y1="248.1488" x2="507.1" y2="248.1488" stroke="#2b3d66" stroke-width="0.7" />
<rect x="509.25" y="276.26" width="7.55" height="10.74" fill="#0f4a8a" />
<line x1="513.0" y1="275.5772" x2="513.0" y2="276.2612" stroke="#2b3d66" stroke-width="0.7" />
<line x1="511.4" y1="275.5772" x2="514.6" y2="275.5772" stroke="#2b3d66" stroke-width="0.7" />
<line x1="400.5" y1="183.5" x2="400.5" y2="287.4" stroke="#231f20" stroke-width="1" />
<line x1="400.0" y1="287" x2="520" y2="287" stroke="#231f20" stroke-width="1" />
<line x1="396.9" y1="287.0" x2="400.5" y2="287.0" stroke="#231f20" stroke-width="0.9" />
<text x="393.5" y="289.5" font-size="7" text-anchor="end">0.0</text>
<line x1="396.9" y1="252.8" x2="400.5" y2="252.8" stroke="#231f20" stroke-width="0.9" />
<text x="393.5" y="255.3" font-size="7" text-anchor="end">0.5</text>
<line x1="396.9" y1="218.6" x2="400.5" y2="218.6" stroke="#231f20" stroke-width="0.9" />
<text x="393.5" y="221.1" font-size="7" text-anchor="end">1.0</text>
<line x1="396.9" y1="184.39999999999998" x2="400.5" y2="184.39999999999998" stroke="#231f20" stroke-width="0.9" />
<text x="393.5" y="186.89999999999998" font-size="7" text-anchor="end">1.5</text>
<line x1="422.5" y1="287" x2="422.5" y2="290" stroke="#231f20" stroke-width="0.9" />
<text x="422.5" y="300.2" font-size="7.1" text-anchor="middle">SCs</text>
<line x1="458.75" y1="287" x2="458.75" y2="290" stroke="#231f20" stroke-width="0.9" />
<text x="458.75" y="300.2" font-size="7.1" text-anchor="middle">MM.1S</text>
<line x1="501.75" y1="287" x2="501.75" y2="290" stroke="#231f20" stroke-width="0.9" />
<text x="501.75" y="300.2" font-size="7.1" text-anchor="middle">SCs</text>
<text x="501.75" y="308.4" font-size="7.1" text-anchor="middle">+MM.1S</text>
<text transform="translate(377.4 235.5) rotate(-90) scale(0.7 1)" font-size="9.9" text-anchor="middle">OD (450nm)</text>
<path d="M411.25 284.7V282.5H417.2V286.5" stroke="#231f20" stroke-width="0.6" fill="none" />
<text x="414.225" y="281" font-size="6.8" text-anchor="middle">ns</text>
<path d="M411.25 276.5V274.3H425V286.5" stroke="#231f20" stroke-width="0.6" fill="none" />
<text x="418.125" y="272.5" font-size="6.8" text-anchor="middle">ns</text>
<path d="M411.25 268.0V265.8H432.5V286.5" stroke="#231f20" stroke-width="0.6" fill="none" />
<text x="421.875" y="263.5" font-size="6.8" text-anchor="middle">ns</text>
<path d="M447.5 254.9V251.3H455.0V260" stroke="#231f20" stroke-width="0.6" fill="none" />
<text x="451.25" y="251.6" font-size="8" text-anchor="middle">****</text>
<path d="M447.5 246.1V242.5H462.5V270.5" stroke="#231f20" stroke-width="0.6" fill="none" />
<text x="455.0" y="242.8" font-size="8" text-anchor="middle">****</text>
<path d="M447.5 237.4V233.8H470.0V283" stroke="#231f20" stroke-width="0.6" fill="none" />
<text x="458.75" y="234.1" font-size="8" text-anchor="middle">****</text>
<path d="M490.5 217.4V213.8H498.0V231" stroke="#231f20" stroke-width="0.6" fill="none" />
<text x="494.25" y="214.1" font-size="8" text-anchor="middle">****</text>
<path d="M490.5 208.6V205H505.5V247.5" stroke="#231f20" stroke-width="0.6" fill="none" />
<text x="498.0" y="205.3" font-size="8" text-anchor="middle">****</text>
<path d="M490.5 199.9V196.3H513.0V275" stroke="#231f20" stroke-width="0.6" fill="none" />
<text x="501.75" y="196.6" font-size="8" text-anchor="middle">****</text>
<text x="53" y="338" font-size="13" font-weight="bold" fill="#000">F</text>
<rect x="98.00" y="343.80" width="104.90" height="9.90" fill="#787878" />
<text x="150.9" y="351.4" font-size="7" text-anchor="middle" font-weight="bold" fill="#fff" textLength="67.5" lengthAdjust="spacingAndGlyphs">Patient MM-BMNCs</text>
<rect x="231.00" y="343.80" width="102.80" height="9.90" fill="#787878" />
<text x="282.3" y="351.4" font-size="7" text-anchor="middle" font-weight="bold" fill="#fff" textLength="93.5" lengthAdjust="spacingAndGlyphs">MM Patient (3) BM samples</text>
<rect x="98.00" y="370.80" width="104.90" height="82.80" fill="#0b0b0b" />
<polyline points="125,370.8 140.75,436.2 189.5,394.2 189.5,370.8" fill="none" stroke="#bdbdbd" stroke-width="0.8"/>
<path d="M172.8 390.2h.7M170.5 385.5h.7M168.3 390.1h.7M168.5 385.4h.7M170.8 388.1h.7M171.4 384.2h.7M170.4 387.8h.7M167.5 392.4h.7M171.0 394.9h.7M170.8 387.2h.7M172.7 386.4h.7M172.1 385.2h.7M170.8 390.8h.7M171.7 387.1h.7M168.3 391.3h.7M170.5 390.1h.7M170.8 391.0h.7M170.3 388.7h.7M171.7 383.4h.7M169.6 387.2h.7M174.2 384.1h.7M171.6 388.8h.7M169.9 383.7h.7M172.2 385.0h.7M171.8 382.6h.7M169.6 392.7h.7M173.1 381.4h.7M167.9 390.3h.7M171.8 387.2h.7M171.0 384.4h.7M171.5 390.4h.7M169.6 384.3h.7M169.0 391.7h.7M167.1 390.8h.7M168.5 389.4h.7M169.9 388.5h.7M173.3 386.6h.7M172.9 385.2h.7M169.5 390.0h.7M165.0 393.0h.7M170.7 383.9h.7M171.3 385.4h.7M165.7 391.8h.7M168.5 388.1h.7M170.1 392.2h.7M170.6 387.7h.7M171.1 381.7h.7M172.8 382.4h.7M171.2 383.7h.7M168.5 388.5h.7M174.0 386.8h.7M169.3 388.2h.7M168.2 390.0h.7M169.3 391.3h.7M167.8 389.4h.7M168.8 387.3h.7M171.8 387.1h.7M171.5 390.7h.7M172.6 381.7h.7M171.4 381.5h.7M170.3 394.1h.7M170.0 387.2h.7M170.7 387.7h.7M170.5 385.6h.7M172.5 388.8h.7M170.0 389.4h.7M171.7 390.0h.7M171.1 389.5h.7M169.9 385.1h.7M169.5 392.1h.7M172.3 386.7h.7M169.3 390.0h.7M173.6 389.2h.7M169.1 389.1h.7M167.6 387.1h.7M170.8 387.7h.7M172.2 390.2h.7M172.0 390.6h.7M169.4 385.5h.7M171.4 395.5h.7M171.1 383.8h.7M170.9 392.0h.7M168.4 392.4h.7M169.2 393.1h.7M171.9 387.5h.7M174.2 383.1h.7M169.1 395.0h.7M168.7 396.4h.7M170.3 384.8h.7M170.4 388.4h.7M170.8 387.0h.7M172.5 378.8h.7M169.3 388.2h.7M173.9 378.5h.7M169.8 385.0h.7M169.1 391.2h.7M171.2 391.8h.7M169.3 389.9h.7M172.6 388.7h.7M169.8 392.1h.7M168.6 395.3h.7M170.7 387.4h.7M170.9 390.2h.7M173.7 384.4h.7M169.7 390.5h.7M168.7 384.3h.7M172.0 385.3h.7M172.5 382.8h.7M164.9 394.1h.7M170.7 392.7h.7M171.4 388.0h.7M171.5 385.8h.7M170.5 383.6h.7M171.4 384.6h.7M169.6 391.0h.7M172.1 383.2h.7M174.2 382.5h.7M172.0 389.5h.7M170.8 388.1h.7M173.8 387.5h.7M171.2 381.5h.7M169.0 393.0h.7M170.8 384.7h.7M169.2 388.2h.7M171.7 388.0h.7M172.3 383.7h.7M172.3 384.7h.7M169.8 393.9h.7M170.5 387.4h.7M170.0 387.2h.7M173.4 389.5h.7M171.8 387.3h.7M172.4 385.9h.7M171.3 388.4h.7M170.6 393.0h.7M173.7 389.0h.7M166.8 397.2h.7M171.7 385.3h.7M170.4 391.6h.7M172.6 388.6h.7M170.7 387.9h.7M172.0 386.2h.7M168.7 387.7h.7M170.1 389.3h.7M174.7 379.7h.7M171.3 386.9h.7M171.0 391.7h.7M172.8 385.3h.7M169.3 384.8h.7M170.3 392.0h.7M169.9 390.7h.7M171.7 388.0h.7M172.5 385.7h.7M168.8 385.8h.7M172.2 385.2h.7M169.8 391.2h.7M168.9 394.9h.7M171.7 385.2h.7M169.2 392.5h.7M168.2 388.1h.7M170.4 388.6h.7M170.4 389.2h.7M169.7 388.3h.7M172.8 387.7h.7M169.5 394.2h.7M166.6 391.8h.7M171.7 389.8h.7M170.6 386.6h.7M171.5 386.3h.7M171.3 378.2h.7M171.1 384.8h.7M172.2 388.6h.7M171.8 385.4h.7M171.2 386.2h.7M170.8 387.2h.7M168.7 395.7h.7M171.8 380.3h.7M172.1 382.0h.7M170.0 386.6h.7M169.4 389.7h.7M169.8 384.1h.7M170.4 389.1h.7M173.8 383.5h.7M168.1 389.0h.7M171.6 384.1h.7M169.0 391.0h.7M170.4 388.7h.7M169.2 386.6h.7M169.8 388.1h.7M169.8 389.9h.7M171.4 388.7h.7M171.3 384.4h.7M168.3 392.5h.7M170.4 388.4h.7M168.2 389.4h.7M169.2 386.5h.7M169.2 384.5h.7M170.6 391.5h.7M169.1 389.6h.7M168.3 392.1h.7M173.9 380.8h.7M170.0 392.8h.7M171.1 387.7h.7M166.5 391.2h.7M172.1 390.8h.7M171.6 385.0h.7M169.1 383.6h.7M168.4 393.4h.7M170.2 384.0h.7M172.9 380.4h.7M172.8 384.7h.7M171.0 389.5h.7M170.9 391.5h.7M170.4 387.0h.7M169.1 384.7h.7M169.1 392.3h.7M172.0 390.9h.7M175.6 385.3h.7M171.4 383.0h.7M169.9 395.3h.7M171.4 386.6h.7M171.0 381.5h.7M168.8 385.4h.7M166.3 394.2h.7M172.2 385.7h.7M171.1 384.2h.7M171.3 389.6h.7M173.3 390.1h.7M171.3 386.7h.7M168.8 387.6h.7M171.6 388.7h.7M170.4 393.2h.7M171.6 386.9h.7M170.0 388.6h.7M168.6 386.7h.7M171.1 385.6h.7M169.9 392.3h.7M170.0 392.4h.7M170.4 392.7h.7M171.3 381.7h.7M172.8 385.1h.7M166.7 391.9h.7M170.7 383.7h.7M169.2 390.8h.7M173.1 389.0h.7M172.7 389.3h.7M165.7 390.2h.7M170.8 379.3h.7M171.9 389.4h.7M168.9 388.2h.7M168.6 389.6h.7M170.3 388.1h.7M168.5 391.0h.7M169.8 391.6h.7M171.0 382.8h.7M167.7 390.8h.7M169.5 390.3h.7M171.9 386.6h.7M167.2 387.3h.7M171.5 383.7h.7M172.5 385.7h.7M171.4 384.3h.7M170.2 378.9h.7M170.0 390.2h.7M168.7 387.0h.7M170.3 388.3h.7M168.9 391.6h.7M167.3 394.4h.7M167.7 388.0h.7M172.9 382.5h.7M167.3 391.2h.7M168.7 386.2h.7M169.1 386.9h.7M168.5 386.5h.7M173.5 383.0h.7M172.2 381.9h.7M171.4 383.1h.7M169.5 390.8h.7M169.4 382.8h.7M169.4 388.5h.7M171.5 383.9h.7M169.8 388.7h.7M167.3 390.6h.7M168.8 390.9h.7M170.2 387.7h.7M165.8 392.0h.7M169.7 385.7h.7M169.4 385.0h.7M170.7 389.7h.7M171.5 385.3h.7M173.6 387.6h.7M168.6 389.3h.7M167.3 390.6h.7M171.8 390.7h.7M169.6 383.2h.7M170.1 392.5h.7M170.7 391.7h.7M172.0 391.4h.7M171.5 384.9h.7M171.2 395.1h.7M169.4 383.1h.7M174.4 385.5h.7M169.2 387.2h.7M167.5 393.0h.7M170.7 385.8h.7M169.6 387.4h.7M172.4 385.5h.7M173.0 382.9h.7M169.2 387.6h.7M169.4 388.7h.7M172.3 389.9h.7M168.4 393.9h.7M170.6 392.8h.7M170.1 385.7h.7M171.9 388.5h.7M169.5 388.9h.7M170.6 388.7h.7M167.1 387.3h.7M170.5 388.7h.7M169.4 383.5h.7M173.0 384.6h.7M168.4 394.9h.7M172.6 389.2h.7M172.0 388.3h.7M168.5 389.8h.7M171.1 389.3h.7M171.3 384.0h.7M169.3 388.1h.7M170.0 385.6h.7M166.9 387.5h.7" stroke="#f7e714" stroke-width="0.7" opacity="0.95" fill="none"/>
<path d="M168.8 398.4h.7M169.5 387.2h.7M166.9 404.8h.7M162.9 396.3h.7M163.7 408.9h.7M168.1 395.7h.7M168.4 398.2h.7M170.4 404.1h.7M170.4 399.3h.7M170.0 402.3h.7M171.0 386.4h.7M168.9 398.8h.7M168.4 397.3h.7M167.8 402.0h.7M168.5 399.4h.7M165.2 393.7h.7M166.1 390.1h.7M166.7 395.1h.7M163.3 391.1h.7M166.8 396.5h.7M173.7 400.0h.7M166.0 397.5h.7M165.4 396.3h.7M167.1 399.3h.7M166.4 404.8h.7M169.7 409.0h.7M164.6 405.2h.7M167.0 390.5h.7M167.2 390.1h.7M167.9 414.7h.7M171.4 407.1h.7M171.1 388.0h.7M169.1 399.1h.7M169.1 392.3h.7M162.8 414.6h.7M171.1 398.6h.7M166.7 400.9h.7M164.8 406.7h.7M168.4 397.8h.7M166.9 399.4h.7M168.3 396.5h.7M170.5 398.5h.7M167.8 394.2h.7M171.2 404.2h.7M169.8 387.2h.7M167.1 405.3h.7M168.1 406.2h.7M166.9 404.3h.7M169.4 384.1h.7M166.9 398.4h.7" stroke="#a89e22" stroke-width="0.7" opacity="0.5" fill="none"/>
<path d="M163.9 404.3h.7M169.5 405.8h.7M167.5 400.7h.7M160.3 407.8h.7M166.5 404.1h.7M166.8 411.4h.7M164.4 408.2h.7M163.7 414.0h.7M169.9 408.7h.7M164.2 405.0h.7M164.8 412.6h.7M163.6 416.0h.7M162.4 409.2h.7M168.8 415.4h.7M164.5 412.3h.7M171.8 411.2h.7M160.0 411.6h.7M171.4 399.9h.7M167.8 396.9h.7M169.5 402.3h.7" stroke="#8a862a" stroke-width="0.7" opacity="0.45" fill="none"/>
<path d="M169.2 434.1h.7M159.5 424.3h.7M167.9 422.3h.7M166.9 425.3h.7M170.6 426.8h.7M164.5 433.7h.7M170.3 428.6h.7M167.8 432.3h.7M165.7 424.3h.7M168.4 428.0h.7M163.3 434.9h.7M168.2 430.5h.7M165.0 429.3h.7M168.6 432.1h.7M164.8 425.9h.7M167.9 430.7h.7M169.3 423.8h.7M169.5 438.3h.7M169.6 430.2h.7M169.4 423.1h.7M165.8 440.5h.7M162.6 425.1h.7M169.2 426.3h.7M165.5 424.7h.7M171.5 426.1h.7M166.3 421.1h.7M169.1 429.6h.7M168.3 437.6h.7M167.4 424.0h.7M164.3 430.9h.7M170.6 423.4h.7M166.3 429.4h.7M168.8 425.2h.7M167.8 433.7h.7M166.9 429.5h.7M168.7 432.6h.7M170.4 424.0h.7M170.3 428.2h.7M163.9 427.8h.7M163.7 429.6h.7M169.8 418.3h.7M163.8 434.4h.7M166.2 434.1h.7M163.4 430.4h.7M160.0 427.1h.7M169.0 435.7h.7M171.4 428.9h.7M164.6 428.5h.7M161.8 437.7h.7M170.2 424.9h.7M171.9 422.4h.7M168.5 425.7h.7M162.3 432.8h.7M163.9 436.5h.7M164.6 431.0h.7M165.7 430.9h.7M165.3 434.4h.7M168.6 430.0h.7M166.7 439.9h.7M165.1 428.2h.7M169.1 429.6h.7M162.6 430.1h.7M166.0 425.2h.7M167.5 424.2h.7M166.3 424.5h.7M171.2 427.8h.7M168.2 431.2h.7M168.9 428.9h.7M169.0 430.2h.7M160.4 432.8h.7M163.5 435.4h.7M167.6 428.0h.7M160.2 420.6h.7M163.8 428.7h.7M163.3 440.6h.7M168.2 429.3h.7M164.3 428.8h.7M166.4 427.9h.7M166.8 434.0h.7M162.2 432.0h.7M170.0 422.6h.7M166.5 428.2h.7M163.9 435.3h.7M166.1 435.9h.7M168.1 428.4h.7M167.8 428.0h.7M162.6 437.9h.7M168.0 435.6h.7M162.1 436.1h.7M169.2 429.4h.7M161.3 431.6h.7M165.2 429.4h.7M167.1 425.5h.7M166.6 430.1h.7M170.9 428.8h.7M173.3 422.9h.7M166.6 436.2h.7M162.8 433.9h.7M168.1 426.8h.7M166.4 437.8h.7M165.8 431.6h.7M168.2 435.8h.7M161.4 423.7h.7M163.4 429.3h.7M168.7 433.8h.7M166.2 437.7h.7M166.8 433.5h.7M164.9 434.5h.7M165.1 436.1h.7M169.3 438.9h.7M165.9 424.4h.7M169.2 431.2h.7M165.6 423.6h.7M169.2 419.9h.7M165.7 435.6h.7M166.3 432.4h.7M168.3 432.7h.7M169.9 432.7h.7M166.0 424.1h.7M166.2 426.9h.7M168.1 435.9h.7M169.1 426.1h.7M167.5 429.9h.7M165.7 436.7h.7M168.7 431.5h.7M163.7 417.5h.7M165.0 436.0h.7M166.4 430.0h.7M166.3 432.5h.7M167.0 438.5h.7M166.7 428.8h.7M170.8 433.0h.7M168.9 432.3h.7M166.9 431.6h.7M168.4 430.3h.7M161.9 437.8h.7M165.7 427.4h.7M166.1 426.6h.7M164.6 430.0h.7M169.4 428.1h.7M168.3 423.0h.7M169.0 424.0h.7M168.9 426.0h.7M165.4 424.1h.7M163.6 429.5h.7M164.4 429.4h.7M170.1 425.2h.7M166.1 429.7h.7M165.3 430.1h.7M167.6 435.1h.7" stroke="#2f8a3a" stroke-width="0.7" opacity="0.6" fill="none"/>
<path d="M164.8 420.5h.7M166.5 430.5h.7M164.0 423.2h.7M169.3 426.1h.7M164.9 414.8h.7M161.4 418.3h.7M166.2 411.5h.7M169.5 423.1h.7M166.3 418.3h.7M168.4 420.0h.7M168.5 418.6h.7M170.2 410.6h.7M163.8 434.6h.7M170.1 433.5h.7M164.6 427.1h.7M170.0 428.4h.7M166.4 432.3h.7M168.2 412.9h.7M174.4 422.9h.7M170.8 417.1h.7M164.2 428.2h.7M169.5 416.8h.7M167.7 412.7h.7M160.8 429.6h.7M163.6 427.2h.7" stroke="#3a703a" stroke-width="0.7" opacity="0.45" fill="none"/>
<line x1="101.46" y1="453.6" x2="101.46" y2="452.0" stroke="#f0f0f0" stroke-width="0.55" />
<line x1="101.46" y1="453.40000000000003" x2="101.46" y2="454.8" stroke="#0b0b0b" stroke-width="0.6" />
<line x1="104.69" y1="453.6" x2="104.69" y2="452.0" stroke="#f0f0f0" stroke-width="0.55" />
<line x1="104.69" y1="453.40000000000003" x2="104.69" y2="454.8" stroke="#0b0b0b" stroke-width="0.6" />
<line x1="107.2" y1="453.6" x2="107.2" y2="452.0" stroke="#f0f0f0" stroke-width="0.55" />
<line x1="107.2" y1="453.40000000000003" x2="107.2" y2="454.8" stroke="#0b0b0b" stroke-width="0.6" />
<line x1="109.25" y1="453.6" x2="109.25" y2="452.0" stroke="#f0f0f0" stroke-width="0.55" />
<line x1="109.25" y1="453.40000000000003" x2="109.25" y2="454.8" stroke="#0b0b0b" stroke-width="0.6" />
<line x1="110.99" y1="453.6" x2="110.99" y2="452.0" stroke="#f0f0f0" stroke-width="0.55" />
<line x1="110.99" y1="453.40000000000003" x2="110.99" y2="454.8" stroke="#0b0b0b" stroke-width="0.6" />
<line x1="112.49" y1="453.6" x2="112.49" y2="452.0" stroke="#f0f0f0" stroke-width="0.55" />
<line x1="112.49" y1="453.40000000000003" x2="112.49" y2="454.8" stroke="#0b0b0b" stroke-width="0.6" />
<line x1="113.81" y1="453.6" x2="113.81" y2="452.0" stroke="#f0f0f0" stroke-width="0.55" />
<line x1="113.81" y1="453.40000000000003" x2="113.81" y2="454.8" stroke="#0b0b0b" stroke-width="0.6" />
<line x1="115.0" y1="453.6" x2="115.0" y2="450.6" stroke="#f0f0f0" stroke-width="0.55" />
<line x1="115.0" y1="453.40000000000003" x2="115.0" y2="456.0" stroke="#0b0b0b" stroke-width="0.6" />
<line x1="122.8" y1="453.6" x2="122.8" y2="452.0" stroke="#f0f0f0" stroke-width="0.55" />
<line x1="122.8" y1="453.40000000000003" x2="122.8" y2="454.8" stroke="#0b0b0b" stroke-width="0.6" />
<line x1="127.36" y1="453.6" x2="127.36" y2="452.0" stroke="#f0f0f0" stroke-width="0.55" />
<line x1="127.36" y1="453.40000000000003" x2="127.36" y2="454.8" stroke="#0b0b0b" stroke-width="0.6" />
<line x1="130.59" y1="453.6" x2="130.59" y2="452.0" stroke="#f0f0f0" stroke-width="0.55" />
<line x1="130.59" y1="453.40000000000003" x2="130.59" y2="454.8" stroke="#0b0b0b" stroke-width="0.6" />
<line x1="133.1" y1="453.6" x2="133.1" y2="452.0" stroke="#f0f0f0" stroke-width="0.55" />
<line x1="133.1" y1="453.40000000000003" x2="133.1" y2="454.8" stroke="#0b0b0b" stroke-width="0.6" />
<line x1="135.15" y1="453.6" x2="135.15" y2="452.0" stroke="#f0f0f0" stroke-width="0.55" />
<line x1="135.15" y1="453.40000000000003" x2="135.15" y2="454.8" stroke="#0b0b0b" stroke-width="0.6" />
<line x1="136.89" y1="453.6" x2="136.89" y2="452.0" stroke="#f0f0f0" stroke-width="0.55" />
<line x1="136.89" y1="453.40000000000003" x2="136.89" y2="454.8" stroke="#0b0b0b" stroke-width="0.6" />
<line x1="138.39" y1="453.6" x2="138.39" y2="452.0" stroke="#f0f0f0" stroke-width="0.55" />
<line x1="138.39" y1="453.40000000000003" x2="138.39" y2="454.8" stroke="#0b0b0b" stroke-width="0.6" />
<line x1="139.71" y1="453.6" x2="139.71" y2="452.0" stroke="#f0f0f0" stroke-width="0.55" />
<line x1="139.71" y1="453.40000000000003" x2="139.71" y2="454.8" stroke="#0b0b0b" stroke-width="0.6" />
<line x1="140.9" y1="453.6" x2="140.9" y2="450.6" stroke="#f0f0f0" stroke-width="0.55" />
<line x1="140.9" y1="453.40000000000003" x2="140.9" y2="456.0" stroke="#0b0b0b" stroke-width="0.6" />
<line x1="148.7" y1="453.6" x2="148.7" y2="452.0" stroke="#f0f0f0" stroke-width="0.55" />
<line x1="148.7" y1="453.40000000000003" x2="148.7" y2="454.8" stroke="#0b0b0b" stroke-width="0.6" />
<line x1="153.26" y1="453.6" x2="153.26" y2="452.0" stroke="#f0f0f0" stroke-width="0.55" />
<line x1="153.26" y1="453.40000000000003" x2="153.26" y2="454.8" stroke="#0b0b0b" stroke-width="0.6" />
<line x1="156.49" y1="453.6" x2="156.49" y2="452.0" stroke="#f0f0f0" stroke-width="0.55" />
<line x1="156.49" y1="453.40000000000003" x2="156.49" y2="454.8" stroke="#0b0b0b" stroke-width="0.6" />
<line x1="159.0" y1="453.6" x2="159.0" y2="452.0" stroke="#f0f0f0" stroke-width="0.55" />
<line x1="159.0" y1="453.40000000000003" x2="159.0" y2="454.8" stroke="#0b0b0b" stroke-width="0.6" />
<line x1="161.05" y1="453.6" x2="161.05" y2="452.0" stroke="#f0f0f0" stroke-width="0.55" />
<line x1="161.05" y1="453.40000000000003" x2="161.05" y2="454.8" stroke="#0b0b0b" stroke-width="0.6" />
<line x1="162.79" y1="453.6" x2="162.79" y2="452.0" stroke="#f0f0f0" stroke-width="0.55" />
<line x1="162.79" y1="453.40000000000003" x2="162.79" y2="454.8" stroke="#0b0b0b" stroke-width="0.6" />
<line x1="164.29" y1="453.6" x2="164.29" y2="452.0" stroke="#f0f0f0" stroke-width="0.55" />
<line x1="164.29" y1="453.40000000000003" x2="164.29" y2="454.8" stroke="#0b0b0b" stroke-width="0.6" />
<line x1="165.61" y1="453.6" x2="165.61" y2="452.0" stroke="#f0f0f0" stroke-width="0.55" />
<line x1="165.61" y1="453.40000000000003" x2="165.61" y2="454.8" stroke="#0b0b0b" stroke-width="0.6" />
<line x1="166.8" y1="453.6" x2="166.8" y2="450.6" stroke="#f0f0f0" stroke-width="0.55" />
<line x1="166.8" y1="453.40000000000003" x2="166.8" y2="456.0" stroke="#0b0b0b" stroke-width="0.6" />
<line x1="174.6" y1="453.6" x2="174.6" y2="452.0" stroke="#f0f0f0" stroke-width="0.55" />
<line x1="174.6" y1="453.40000000000003" x2="174.6" y2="454.8" stroke="#0b0b0b" stroke-width="0.6" />
<line x1="179.16" y1="453.6" x2="179.16" y2="452.0" stroke="#f0f0f0" stroke-width="0.55" />
<line x1="179.16" y1="453.40000000000003" x2="179.16" y2="454.8" stroke="#0b0b0b" stroke-width="0.6" />
<line x1="182.39" y1="453.6" x2="182.39" y2="452.0" stroke="#f0f0f0" stroke-width="0.55" />
<line x1="182.39" y1="453.40000000000003" x2="182.39" y2="454.8" stroke="#0b0b0b" stroke-width="0.6" />
<line x1="184.9" y1="453.6" x2="184.9" y2="452.0" stroke="#f0f0f0" stroke-width="0.55" />
<line x1="184.9" y1="453.40000000000003" x2="184.9" y2="454.8" stroke="#0b0b0b" stroke-width="0.6" />
<line x1="186.95" y1="453.6" x2="186.95" y2="452.0" stroke="#f0f0f0" stroke-width="0.55" />
<line x1="186.95" y1="453.40000000000003" x2="186.95" y2="454.8" stroke="#0b0b0b" stroke-width="0.6" />
<line x1="188.69" y1="453.6" x2="188.69" y2="452.0" stroke="#f0f0f0" stroke-width="0.55" />
<line x1="188.69" y1="453.40000000000003" x2="188.69" y2="454.8" stroke="#0b0b0b" stroke-width="0.6" />
<line x1="190.19" y1="453.6" x2="190.19" y2="452.0" stroke="#f0f0f0" stroke-width="0.55" />
<line x1="190.19" y1="453.40000000000003" x2="190.19" y2="454.8" stroke="#0b0b0b" stroke-width="0.6" />
<line x1="191.51" y1="453.6" x2="191.51" y2="452.0" stroke="#f0f0f0" stroke-width="0.55" />
<line x1="191.51" y1="453.40000000000003" x2="191.51" y2="454.8" stroke="#0b0b0b" stroke-width="0.6" />
<line x1="192.7" y1="453.6" x2="192.7" y2="450.6" stroke="#f0f0f0" stroke-width="0.55" />
<line x1="192.7" y1="453.40000000000003" x2="192.7" y2="456.0" stroke="#0b0b0b" stroke-width="0.6" />
<line x1="200.5" y1="453.6" x2="200.5" y2="452.0" stroke="#f0f0f0" stroke-width="0.55" />
<line x1="200.5" y1="453.40000000000003" x2="200.5" y2="454.8" stroke="#0b0b0b" stroke-width="0.6" />
<line x1="98" y1="452.22" x2="99.6" y2="452.22" stroke="#f0f0f0" stroke-width="0.55" />
<line x1="98.2" y1="452.22" x2="96.8" y2="452.22" stroke="#0b0b0b" stroke-width="0.6" />
<line x1="98" y1="449.64" x2="99.6" y2="449.64" stroke="#f0f0f0" stroke-width="0.55" />
<line x1="98.2" y1="449.64" x2="96.8" y2="449.64" stroke="#0b0b0b" stroke-width="0.6" />
<line x1="98" y1="447.63" x2="99.6" y2="447.63" stroke="#f0f0f0" stroke-width="0.55" />
<line x1="98.2" y1="447.63" x2="96.8" y2="447.63" stroke="#0b0b0b" stroke-width="0.6" />
<line x1="98" y1="445.99" x2="99.6" y2="445.99" stroke="#f0f0f0" stroke-width="0.55" />
<line x1="98.2" y1="445.99" x2="96.8" y2="445.99" stroke="#0b0b0b" stroke-width="0.6" />
<line x1="98" y1="444.61" x2="99.6" y2="444.61" stroke="#f0f0f0" stroke-width="0.55" />
<line x1="98.2" y1="444.61" x2="96.8" y2="444.61" stroke="#0b0b0b" stroke-width="0.6" />
<line x1="98" y1="443.41" x2="99.6" y2="443.41" stroke="#f0f0f0" stroke-width="0.55" />
<line x1="98.2" y1="443.41" x2="96.8" y2="443.41" stroke="#0b0b0b" stroke-width="0.6" />
<line x1="98" y1="442.35" x2="99.6" y2="442.35" stroke="#f0f0f0" stroke-width="0.55" />
<line x1="98.2" y1="442.35" x2="96.8" y2="442.35" stroke="#0b0b0b" stroke-width="0.6" />
<line x1="98" y1="441.4" x2="101" y2="441.4" stroke="#f0f0f0" stroke-width="0.55" />
<line x1="98.2" y1="441.4" x2="95.6" y2="441.4" stroke="#0b0b0b" stroke-width="0.6" />
<line x1="98" y1="435.17" x2="99.6" y2="435.17" stroke="#f0f0f0" stroke-width="0.55" />
<line x1="98.2" y1="435.17" x2="96.8" y2="435.17" stroke="#0b0b0b" stroke-width="0.6" />
<line x1="98" y1="431.52" x2="99.6" y2="431.52" stroke="#f0f0f0" stroke-width="0.55" />
<line x1="98.2" y1="431.52" x2="96.8" y2="431.52" stroke="#0b0b0b" stroke-width="0.6" />
<line x1="98" y1="428.94" x2="99.6" y2="428.94" stroke="#f0f0f0" stroke-width="0.55" />
<line x1="98.2" y1="428.94" x2="96.8" y2="428.94" stroke="#0b0b0b" stroke-width="0.6" />
<line x1="98" y1="426.93" x2="99.6" y2="426.93" stroke="#f0f0f0" stroke-width="0.55" />
<line x1="98.2" y1="426.93" x2="96.8" y2="426.93" stroke="#0b0b0b" stroke-width="0.6" />
<line x1="98" y1="425.29" x2="99.6" y2="425.29" stroke="#f0f0f0" stroke-width="0.55" />
<line x1="98.2" y1="425.29" x2="96.8" y2="425.29" stroke="#0b0b0b" stroke-width="0.6" />
<line x1="98" y1="423.91" x2="99.6" y2="423.91" stroke="#f0f0f0" stroke-width="0.55" />
<line x1="98.2" y1="423.91" x2="96.8" y2="423.91" stroke="#0b0b0b" stroke-width="0.6" />
<line x1="98" y1="422.71" x2="99.6" y2="422.71" stroke="#f0f0f0" stroke-width="0.55" />
<line x1="98.2" y1="422.71" x2="96.8" y2="422.71" stroke="#0b0b0b" stroke-width="0.6" />
<line x1="98" y1="421.65" x2="99.6" y2="421.65" stroke="#f0f0f0" stroke-width="0.55" />
<line x1="98.2" y1="421.65" x2="96.8" y2="421.65" stroke="#0b0b0b" stroke-width="0.6" />
<line x1="98" y1="420.7" x2="101" y2="420.7" stroke="#f0f0f0" stroke-width="0.55" />
<line x1="98.2" y1="420.7" x2="95.6" y2="420.7" stroke="#0b0b0b" stroke-width="0.6" />
<line x1="98" y1="414.47" x2="99.6" y2="414.47" stroke="#f0f0f0" stroke-width="0.55" />
<line x1="98.2" y1="414.47" x2="96.8" y2="414.47" stroke="#0b0b0b" stroke-width="0.6" />
<line x1="98" y1="410.82" x2="99.6" y2="410.82" stroke="#f0f0f0" stroke-width="0.55" />
<line x1="98.2" y1="410.82" x2="96.8" y2="410.82" stroke="#0b0b0b" stroke-width="0.6" />
<line x1="98" y1="408.24" x2="99.6" y2="408.24" stroke="#f0f0f0" stroke-width="0.55" />
<line x1="98.2" y1="408.24" x2="96.8" y2="408.24" stroke="#0b0b0b" stroke-width="0.6" />
<line x1="98" y1="406.23" x2="99.6" y2="406.23" stroke="#f0f0f0" stroke-width="0.55" />
<line x1="98.2" y1="406.23" x2="96.8" y2="406.23" stroke="#0b0b0b" stroke-width="0.6" />
<line x1="98" y1="404.59" x2="99.6" y2="404.59" stroke="#f0f0f0" stroke-width="0.55" />
<line x1="98.2" y1="404.59" x2="96.8" y2="404.59" stroke="#0b0b0b" stroke-width="0.6" />
<line x1="98" y1="403.21" x2="99.6" y2="403.21" stroke="#f0f0f0" stroke-width="0.55" />
<line x1="98.2" y1="403.21" x2="96.8" y2="403.21" stroke="#0b0b0b" stroke-width="0.6" />
<line x1="98" y1="402.01" x2="99.6" y2="402.01" stroke="#f0f0f0" stroke-width="0.55" />
<line x1="98.2" y1="402.01" x2="96.8" y2="402.01" stroke="#0b0b0b" stroke-width="0.6" />
<line x1="98" y1="400.95" x2="99.6" y2="400.95" stroke="#f0f0f0" stroke-width="0.55" />
<line x1="98.2" y1="400.95" x2="96.8" y2="400.95" stroke="#0b0b0b" stroke-width="0.6" />
<line x1="98" y1="400.0" x2="101" y2="400.0" stroke="#f0f0f0" stroke-width="0.55" />
<line x1="98.2" y1="400.0" x2="95.6" y2="400.0" stroke="#0b0b0b" stroke-width="0.6" />
<line x1="98" y1="393.77" x2="99.6" y2="393.77" stroke="#f0f0f0" stroke-width="0.55" />
<line x1="98.2" y1="393.77" x2="96.8" y2="393.77" stroke="#0b0b0b" stroke-width="0.6" />
<line x1="98" y1="390.12" x2="99.6" y2="390.12" stroke="#f0f0f0" stroke-width="0.55" />
<line x1="98.2" y1="390.12" x2="96.8" y2="390.12" stroke="#0b0b0b" stroke-width="0.6" />
<line x1="98" y1="387.54" x2="99.6" y2="387.54" stroke="#f0f0f0" stroke-width="0.55" />
<line x1="98.2" y1="387.54" x2="96.8" y2="387.54" stroke="#0b0b0b" stroke-width="0.6" />
<line x1="98" y1="385.53" x2="99.6" y2="385.53" stroke="#f0f0f0" stroke-width="0.55" />
<line x1="98.2" y1="385.53" x2="96.8" y2="385.53" stroke="#0b0b0b" stroke-width="0.6" />
<line x1="98" y1="383.89" x2="99.6" y2="383.89" stroke="#f0f0f0" stroke-width="0.55" />
<line x1="98.2" y1="383.89" x2="96.8" y2="383.89" stroke="#0b0b0b" stroke-width="0.6" />
<line x1="98" y1="382.51" x2="99.6" y2="382.51" stroke="#f0f0f0" stroke-width="0.55" />
<line x1="98.2" y1="382.51" x2="96.8" y2="382.51" stroke="#0b0b0b" stroke-width="0.6" />
<line x1="98" y1="381.31" x2="99.6" y2="381.31" stroke="#f0f0f0" stroke-width="0.55" />
<line x1="98.2" y1="381.31" x2="96.8" y2="381.31" stroke="#0b0b0b" stroke-width="0.6" />
<line x1="98" y1="380.25" x2="99.6" y2="380.25" stroke="#f0f0f0" stroke-width="0.55" />
<line x1="98.2" y1="380.25" x2="96.8" y2="380.25" stroke="#0b0b0b" stroke-width="0.6" />
<line x1="98" y1="379.3" x2="101" y2="379.3" stroke="#f0f0f0" stroke-width="0.55" />
<line x1="98.2" y1="379.3" x2="95.6" y2="379.3" stroke="#0b0b0b" stroke-width="0.6" />
<line x1="98" y1="373.07" x2="99.6" y2="373.07" stroke="#f0f0f0" stroke-width="0.55" />
<line x1="98.2" y1="373.07" x2="96.8" y2="373.07" stroke="#0b0b0b" stroke-width="0.6" />
<line x1="173.8" y1="377.5" x2="186.8" y2="365.7" stroke="#8a8a8a" stroke-width="1.0" />
<polygon points="187.69,364.89 181.40,367.49 184.50,370.90" fill="#8a8a8a"/>
<rect x="231.10" y="370.80" width="102.70" height="82.80" fill="#0b0b0b" />
<polyline points="258,370.8 272.5,436.2 319.5,393.8 319.5,370.8" fill="none" stroke="#bdbdbd" stroke-width="0.8"/>
<path d="M306.5 386.4h.7M301.1 392.3h.7M302.3 384.3h.7M298.8 388.7h.7M297.0 388.9h.7M298.6 391.1h.7M297.5 395.0h.7M298.5 376.9h.7M303.3 388.9h.7M297.9 394.1h.7M300.6 392.0h.7M297.6 393.8h.7M295.7 400.6h.7M296.5 392.3h.7M300.1 393.1h.7M299.3 394.6h.7M289.8 394.5h.7M299.2 389.5h.7M303.9 385.2h.7M299.4 381.6h.7M300.4 383.2h.7M295.2 404.7h.7M301.6 390.7h.7M300.1 384.2h.7M296.7 394.6h.7M293.6 395.0h.7M294.7 393.8h.7M296.5 401.3h.7M302.5 387.9h.7M294.3 389.5h.7M299.5 386.6h.7M300.4 396.1h.7M299.5 389.4h.7M301.9 389.2h.7M302.0 389.0h.7M304.2 388.5h.7M296.6 393.0h.7M297.8 387.5h.7M299.3 395.4h.7M293.5 393.5h.7M299.2 390.9h.7M301.9 384.2h.7M301.5 389.7h.7M300.0 390.3h.7M298.7 389.3h.7M300.8 401.6h.7M302.7 394.7h.7M301.3 388.6h.7M301.4 401.3h.7M296.1 397.0h.7M302.6 392.0h.7M302.0 397.8h.7M306.0 395.9h.7M304.5 391.7h.7M302.1 391.7h.7M300.6 389.1h.7M301.7 398.3h.7M299.4 393.2h.7M301.6 391.3h.7M302.5 392.1h.7M296.5 387.9h.7M301.9 394.2h.7M303.0 392.0h.7M300.5 383.8h.7M303.8 385.9h.7M302.8 385.2h.7M298.0 393.3h.7M298.7 388.8h.7M302.4 394.3h.7M301.0 389.8h.7M297.6 390.4h.7M298.4 392.3h.7M302.1 390.3h.7M297.7 389.7h.7M303.6 391.4h.7M300.6 393.1h.7M301.6 392.0h.7M303.3 394.8h.7M292.0 394.1h.7M308.3 382.7h.7M300.3 397.2h.7M300.0 398.6h.7M296.4 387.1h.7M299.5 388.5h.7M297.0 395.9h.7M300.8 391.8h.7M298.9 393.7h.7M299.7 388.5h.7M301.4 393.3h.7M300.2 395.3h.7M296.9 392.4h.7M298.5 399.1h.7M301.4 401.9h.7M304.4 388.6h.7M296.9 395.5h.7M299.2 391.5h.7M297.0 396.0h.7M300.5 393.8h.7M300.9 387.3h.7M293.7 392.9h.7M298.2 390.0h.7M302.7 390.6h.7M304.2 391.4h.7M301.9 393.8h.7M302.3 385.0h.7M303.1 391.4h.7M297.3 396.0h.7M301.0 398.0h.7M302.0 393.1h.7M295.4 401.8h.7M304.2 394.3h.7M301.3 397.5h.7M297.6 396.3h.7M300.1 387.1h.7M301.0 393.4h.7M304.8 394.9h.7M295.5 384.0h.7M299.8 391.1h.7M297.4 385.8h.7M299.5 386.5h.7M298.1 396.9h.7M300.7 388.1h.7M296.9 392.2h.7M304.9 387.8h.7M304.8 386.4h.7M299.4 395.6h.7M297.8 393.0h.7M296.2 396.6h.7M303.2 387.7h.7M300.5 389.8h.7M294.0 407.6h.7M301.8 395.4h.7M301.1 392.5h.7M306.6 380.7h.7M299.1 390.3h.7M299.4 395.6h.7M298.0 386.2h.7M296.8 395.4h.7M302.7 395.0h.7M304.5 387.9h.7M302.8 394.4h.7M299.5 388.5h.7M302.5 387.8h.7M299.2 387.5h.7M304.9 390.0h.7M298.6 391.3h.7M299.4 392.7h.7M295.2 388.0h.7M301.4 396.8h.7M297.2 393.6h.7M298.4 381.4h.7M299.1 387.0h.7M302.4 390.1h.7M299.9 384.9h.7M300.4 382.3h.7M300.6 398.5h.7M296.6 397.4h.7M303.9 389.6h.7M303.1 391.3h.7M298.6 382.6h.7M297.0 385.8h.7M306.7 390.9h.7M299.5 385.5h.7M304.8 384.6h.7M304.2 395.8h.7M300.2 388.7h.7M299.9 385.5h.7M301.8 399.6h.7M302.5 396.2h.7M298.0 394.2h.7M297.1 390.8h.7M302.0 403.5h.7M300.2 392.1h.7M294.7 394.8h.7M297.4 386.0h.7M295.8 394.2h.7M298.9 395.7h.7M299.3 392.2h.7M304.1 394.5h.7M302.2 398.5h.7M300.6 386.9h.7M297.8 385.1h.7M301.0 389.7h.7M301.4 395.6h.7M297.7 393.7h.7M303.6 391.1h.7M302.6 390.1h.7M297.3 391.8h.7M294.7 397.4h.7M298.5 399.1h.7M296.5 393.9h.7M301.0 390.7h.7M301.1 387.9h.7M297.0 386.1h.7M298.4 388.5h.7M300.7 389.9h.7M298.1 389.0h.7M294.6 392.1h.7M301.2 385.0h.7M299.3 395.6h.7M298.0 393.6h.7M298.8 404.6h.7M303.9 396.4h.7M298.1 395.9h.7M299.5 394.0h.7M298.4 393.4h.7M297.8 394.2h.7M305.0 383.4h.7M296.3 395.8h.7M302.2 389.3h.7M301.7 393.5h.7M301.6 398.3h.7M298.2 395.9h.7M300.6 388.4h.7M301.4 385.0h.7M295.8 398.9h.7M296.9 401.5h.7M303.0 388.3h.7M297.5 381.8h.7M299.8 383.9h.7M304.5 382.0h.7M300.2 378.3h.7M299.0 399.0h.7M298.7 388.3h.7M298.6 394.3h.7M302.5 389.9h.7M294.1 395.6h.7M302.8 402.5h.7M300.5 392.7h.7M298.4 396.3h.7" stroke="#e0d21a" stroke-width="0.7" opacity="0.85" fill="none"/>
<path d="M304.2 395.4h.7M299.7 395.1h.7M297.7 399.9h.7M300.8 396.3h.7M298.7 408.7h.7M300.8 404.9h.7M300.5 399.9h.7M300.6 403.9h.7M299.5 406.7h.7M299.5 406.0h.7M299.5 405.1h.7M297.7 397.8h.7M296.4 407.7h.7M300.8 402.2h.7M301.1 396.3h.7M299.7 398.1h.7M294.5 399.5h.7M297.2 409.0h.7M297.5 397.5h.7M302.1 400.9h.7M295.9 402.3h.7M297.5 410.6h.7M296.7 396.8h.7M292.2 397.2h.7M304.5 400.3h.7M296.9 402.6h.7M298.7 400.7h.7M306.1 412.3h.7M303.7 410.3h.7M297.0 390.0h.7M301.5 403.2h.7M299.6 400.3h.7M301.4 404.2h.7M300.2 403.7h.7M298.9 398.9h.7M303.2 399.6h.7M304.8 404.6h.7M299.7 407.3h.7M298.2 399.9h.7M298.6 401.0h.7M301.3 412.7h.7M300.9 395.0h.7M297.3 390.8h.7M301.4 405.9h.7M300.4 403.0h.7M300.9 403.4h.7M301.2 402.3h.7M296.9 406.3h.7M303.1 391.8h.7M298.9 394.6h.7M300.8 399.4h.7M303.3 407.2h.7M298.3 398.3h.7M297.9 404.2h.7M297.0 403.4h.7M295.8 406.9h.7M300.8 394.4h.7M297.4 401.8h.7M300.2 384.9h.7M300.0 409.5h.7" stroke="#b3a822" stroke-width="0.7" opacity="0.7" fill="none"/>
<path d="M298.3 406.4h.7M300.9 413.0h.7M299.3 414.5h.7M297.1 409.2h.7M297.3 407.3h.7M298.5 407.7h.7M301.5 414.0h.7M300.3 405.2h.7M298.7 411.4h.7M299.2 413.8h.7M297.8 408.2h.7M300.5 421.2h.7" stroke="#7d7a2a" stroke-width="0.7" opacity="0.6" fill="none"/>
<line x1="234.56" y1="453.6" x2="234.56" y2="452.0" stroke="#f0f0f0" stroke-width="0.55" />
<line x1="234.56" y1="453.40000000000003" x2="234.56" y2="454.8" stroke="#0b0b0b" stroke-width="0.6" />
<line x1="237.79" y1="453.6" x2="237.79" y2="452.0" stroke="#f0f0f0" stroke-width="0.55" />
<line x1="237.79" y1="453.40000000000003" x2="237.79" y2="454.8" stroke="#0b0b0b" stroke-width="0.6" />
<line x1="240.3" y1="453.6" x2="240.3" y2="452.0" stroke="#f0f0f0" stroke-width="0.55" />
<line x1="240.3" y1="453.40000000000003" x2="240.3" y2="454.8" stroke="#0b0b0b" stroke-width="0.6" />
<line x1="242.35" y1="453.6" x2="242.35" y2="452.0" stroke="#f0f0f0" stroke-width="0.55" />
<line x1="242.35" y1="453.40000000000003" x2="242.35" y2="454.8" stroke="#0b0b0b" stroke-width="0.6" />
<line x1="244.09" y1="453.6" x2="244.09" y2="452.0" stroke="#f0f0f0" stroke-width="0.55" />
<line x1="244.09" y1="453.40000000000003" x2="244.09" y2="454.8" stroke="#0b0b0b" stroke-width="0.6" />
<line x1="245.59" y1="453.6" x2="245.59" y2="452.0" stroke="#f0f0f0" stroke-width="0.55" />
<line x1="245.59" y1="453.40000000000003" x2="245.59" y2="454.8" stroke="#0b0b0b" stroke-width="0.6" />
<line x1="246.91" y1="453.6" x2="246.91" y2="452.0" stroke="#f0f0f0" stroke-width="0.55" />
<line x1="246.91" y1="453.40000000000003" x2="246.91" y2="454.8" stroke="#0b0b0b" stroke-width="0.6" />
<line x1="248.1" y1="453.6" x2="248.1" y2="450.6" stroke="#f0f0f0" stroke-width="0.55" />
<line x1="248.1" y1="453.40000000000003" x2="248.1" y2="456.0" stroke="#0b0b0b" stroke-width="0.6" />
<line x1="255.9" y1="453.6" x2="255.9" y2="452.0" stroke="#f0f0f0" stroke-width="0.55" />
<line x1="255.9" y1="453.40000000000003" x2="255.9" y2="454.8" stroke="#0b0b0b" stroke-width="0.6" />
<line x1="260.46" y1="453.6" x2="260.46" y2="452.0" stroke="#f0f0f0" stroke-width="0.55" />
<line x1="260.46" y1="453.40000000000003" x2="260.46" y2="454.8" stroke="#0b0b0b" stroke-width="0.6" />
<line x1="263.69" y1="453.6" x2="263.69" y2="452.0" stroke="#f0f0f0" stroke-width="0.55" />
<line x1="263.69" y1="453.40000000000003" x2="263.69" y2="454.8" stroke="#0b0b0b" stroke-width="0.6" />
<line x1="266.2" y1="453.6" x2="266.2" y2="452.0" stroke="#f0f0f0" stroke-width="0.55" />
<line x1="266.2" y1="453.40000000000003" x2="266.2" y2="454.8" stroke="#0b0b0b" stroke-width="0.6" />
<line x1="268.25" y1="453.6" x2="268.25" y2="452.0" stroke="#f0f0f0" stroke-width="0.55" />
<line x1="268.25" y1="453.40000000000003" x2="268.25" y2="454.8" stroke="#0b0b0b" stroke-width="0.6" />
<line x1="269.99" y1="453.6" x2="269.99" y2="452.0" stroke="#f0f0f0" stroke-width="0.55" />
<line x1="269.99" y1="453.40000000000003" x2="269.99" y2="454.8" stroke="#0b0b0b" stroke-width="0.6" />
<line x1="271.49" y1="453.6" x2="271.49" y2="452.0" stroke="#f0f0f0" stroke-width="0.55" />
<line x1="271.49" y1="453.40000000000003" x2="271.49" y2="454.8" stroke="#0b0b0b" stroke-width="0.6" />
<line x1="272.81" y1="453.6" x2="272.81" y2="452.0" stroke="#f0f0f0" stroke-width="0.55" />
<line x1="272.81" y1="453.40000000000003" x2="272.81" y2="454.8" stroke="#0b0b0b" stroke-width="0.6" />
<line x1="274.0" y1="453.6" x2="274.0" y2="450.6" stroke="#f0f0f0" stroke-width="0.55" />
<line x1="274.0" y1="453.40000000000003" x2="274.0" y2="456.0" stroke="#0b0b0b" stroke-width="0.6" />
<line x1="281.8" y1="453.6" x2="281.8" y2="452.0" stroke="#f0f0f0" stroke-width="0.55" />
<line x1="281.8" y1="453.40000000000003" x2="281.8" y2="454.8" stroke="#0b0b0b" stroke-width="0.6" />
<line x1="286.36" y1="453.6" x2="286.36" y2="452.0" stroke="#f0f0f0" stroke-width="0.55" />
<line x1="286.36" y1="453.40000000000003" x2="286.36" y2="454.8" stroke="#0b0b0b" stroke-width="0.6" />
<line x1="289.59" y1="453.6" x2="289.59" y2="452.0" stroke="#f0f0f0" stroke-width="0.55" />
<line x1="289.59" y1="453.40000000000003" x2="289.59" y2="454.8" stroke="#0b0b0b" stroke-width="0.6" />
<line x1="292.1" y1="453.6" x2="292.1" y2="452.0" stroke="#f0f0f0" stroke-width="0.55" />
<line x1="292.1" y1="453.40000000000003" x2="292.1" y2="454.8" stroke="#0b0b0b" stroke-width="0.6" />
<line x1="294.15" y1="453.6" x2="294.15" y2="452.0" stroke="#f0f0f0" stroke-width="0.55" />
<line x1="294.15" y1="453.40000000000003" x2="294.15" y2="454.8" stroke="#0b0b0b" stroke-width="0.6" />
<line x1="295.89" y1="453.6" x2="295.89" y2="452.0" stroke="#f0f0f0" stroke-width="0.55" />
<line x1="295.89" y1="453.40000000000003" x2="295.89" y2="454.8" stroke="#0b0b0b" stroke-width="0.6" />
<line x1="297.39" y1="453.6" x2="297.39" y2="452.0" stroke="#f0f0f0" stroke-width="0.55" />
<line x1="297.39" y1="453.40000000000003" x2="297.39" y2="454.8" stroke="#0b0b0b" stroke-width="0.6" />
<line x1="298.71" y1="453.6" x2="298.71" y2="452.0" stroke="#f0f0f0" stroke-width="0.55" />
<line x1="298.71" y1="453.40000000000003" x2="298.71" y2="454.8" stroke="#0b0b0b" stroke-width="0.6" />
<line x1="299.9" y1="453.6" x2="299.9" y2="450.6" stroke="#f0f0f0" stroke-width="0.55" />
<line x1="299.9" y1="453.40000000000003" x2="299.9" y2="456.0" stroke="#0b0b0b" stroke-width="0.6" />
<line x1="307.7" y1="453.6" x2="307.7" y2="452.0" stroke="#f0f0f0" stroke-width="0.55" />
<line x1="307.7" y1="453.40000000000003" x2="307.7" y2="454.8" stroke="#0b0b0b" stroke-width="0.6" />
<line x1="312.26" y1="453.6" x2="312.26" y2="452.0" stroke="#f0f0f0" stroke-width="0.55" />
<line x1="312.26" y1="453.40000000000003" x2="312.26" y2="454.8" stroke="#0b0b0b" stroke-width="0.6" />
<line x1="315.49" y1="453.6" x2="315.49" y2="452.0" stroke="#f0f0f0" stroke-width="0.55" />
<line x1="315.49" y1="453.40000000000003" x2="315.49" y2="454.8" stroke="#0b0b0b" stroke-width="0.6" />
<line x1="318.0" y1="453.6" x2="318.0" y2="452.0" stroke="#f0f0f0" stroke-width="0.55" />
<line x1="318.0" y1="453.40000000000003" x2="318.0" y2="454.8" stroke="#0b0b0b" stroke-width="0.6" />
<line x1="320.05" y1="453.6" x2="320.05" y2="452.0" stroke="#f0f0f0" stroke-width="0.55" />
<line x1="320.05" y1="453.40000000000003" x2="320.05" y2="454.8" stroke="#0b0b0b" stroke-width="0.6" />
<line x1="321.79" y1="453.6" x2="321.79" y2="452.0" stroke="#f0f0f0" stroke-width="0.55" />
<line x1="321.79" y1="453.40000000000003" x2="321.79" y2="454.8" stroke="#0b0b0b" stroke-width="0.6" />
<line x1="323.29" y1="453.6" x2="323.29" y2="452.0" stroke="#f0f0f0" stroke-width="0.55" />
<line x1="323.29" y1="453.40000000000003" x2="323.29" y2="454.8" stroke="#0b0b0b" stroke-width="0.6" />
<line x1="324.61" y1="453.6" x2="324.61" y2="452.0" stroke="#f0f0f0" stroke-width="0.55" />
<line x1="324.61" y1="453.40000000000003" x2="324.61" y2="454.8" stroke="#0b0b0b" stroke-width="0.6" />
<line x1="325.8" y1="453.6" x2="325.8" y2="450.6" stroke="#f0f0f0" stroke-width="0.55" />
<line x1="325.8" y1="453.40000000000003" x2="325.8" y2="456.0" stroke="#0b0b0b" stroke-width="0.6" />
<line x1="231.1" y1="452.22" x2="232.7" y2="452.22" stroke="#f0f0f0" stroke-width="0.55" />
<line x1="231.29999999999998" y1="452.22" x2="229.9" y2="452.22" stroke="#0b0b0b" stroke-width="0.6" />
<line x1="231.1" y1="449.64" x2="232.7" y2="449.64" stroke="#f0f0f0" stroke-width="0.55" />
<line x1="231.29999999999998" y1="449.64" x2="229.9" y2="449.64" stroke="#0b0b0b" stroke-width="0.6" />
<line x1="231.1" y1="447.63" x2="232.7" y2="447.63" stroke="#f0f0f0" stroke-width="0.55" />
<line x1="231.29999999999998" y1="447.63" x2="229.9" y2="447.63" stroke="#0b0b0b" stroke-width="0.6" />
<line x1="231.1" y1="445.99" x2="232.7" y2="445.99" stroke="#f0f0f0" stroke-width="0.55" />
<line x1="231.29999999999998" y1="445.99" x2="229.9" y2="445.99" stroke="#0b0b0b" stroke-width="0.6" />
<line x1="231.1" y1="444.61" x2="232.7" y2="444.61" stroke="#f0f0f0" stroke-width="0.55" />
<line x1="231.29999999999998" y1="444.61" x2="229.9" y2="444.61" stroke="#0b0b0b" stroke-width="0.6" />
<line x1="231.1" y1="443.41" x2="232.7" y2="443.41" stroke="#f0f0f0" stroke-width="0.55" />
<line x1="231.29999999999998" y1="443.41" x2="229.9" y2="443.41" stroke="#0b0b0b" stroke-width="0.6" />
<line x1="231.1" y1="442.35" x2="232.7" y2="442.35" stroke="#f0f0f0" stroke-width="0.55" />
<line x1="231.29999999999998" y1="442.35" x2="229.9" y2="442.35" stroke="#0b0b0b" stroke-width="0.6" />
<line x1="231.1" y1="441.4" x2="234.1" y2="441.4" stroke="#f0f0f0" stroke-width="0.55" />
<line x1="231.29999999999998" y1="441.4" x2="228.7" y2="441.4" stroke="#0b0b0b" stroke-width="0.6" />
<line x1="231.1" y1="435.17" x2="232.7" y2="435.17" stroke="#f0f0f0" stroke-width="0.55" />
<line x1="231.29999999999998" y1="435.17" x2="229.9" y2="435.17" stroke="#0b0b0b" stroke-width="0.6" />
<line x1="231.1" y1="431.52" x2="232.7" y2="431.52" stroke="#f0f0f0" stroke-width="0.55" />
<line x1="231.29999999999998" y1="431.52" x2="229.9" y2="431.52" stroke="#0b0b0b" stroke-width="0.6" />
<line x1="231.1" y1="428.94" x2="232.7" y2="428.94" stroke="#f0f0f0" stroke-width="0.55" />
<line x1="231.29999999999998" y1="428.94" x2="229.9" y2="428.94" stroke="#0b0b0b" stroke-width="0.6" />
<line x1="231.1" y1="426.93" x2="232.7" y2="426.93" stroke="#f0f0f0" stroke-width="0.55" />
<line x1="231.29999999999998" y1="426.93" x2="229.9" y2="426.93" stroke="#0b0b0b" stroke-width="0.6" />
<line x1="231.1" y1="425.29" x2="232.7" y2="425.29" stroke="#f0f0f0" stroke-width="0.55" />
<line x1="231.29999999999998" y1="425.29" x2="229.9" y2="425.29" stroke="#0b0b0b" stroke-width="0.6" />
<line x1="231.1" y1="423.91" x2="232.7" y2="423.91" stroke="#f0f0f0" stroke-width="0.55" />
<line x1="231.29999999999998" y1="423.91" x2="229.9" y2="423.91" stroke="#0b0b0b" stroke-width="0.6" />
<line x1="231.1" y1="422.71" x2="232.7" y2="422.71" stroke="#f0f0f0" stroke-width="0.55" />
<line x1="231.29999999999998" y1="422.71" x2="229.9" y2="422.71" stroke="#0b0b0b" stroke-width="0.6" />
<line x1="231.1" y1="421.65" x2="232.7" y2="421.65" stroke="#f0f0f0" stroke-width="0.55" />
<line x1="231.29999999999998" y1="421.65" x2="229.9" y2="421.65" stroke="#0b0b0b" stroke-width="0.6" />
<line x1="231.1" y1="420.7" x2="234.1" y2="420.7" stroke="#f0f0f0" stroke-width="0.55" />
<line x1="231.29999999999998" y1="420.7" x2="228.7" y2="420.7" stroke="#0b0b0b" stroke-width="0.6" />
<line x1="231.1" y1="414.47" x2="232.7" y2="414.47" stroke="#f0f0f0" stroke-width="0.55" />
<line x1="231.29999999999998" y1="414.47" x2="229.9" y2="414.47" stroke="#0b0b0b" stroke-width="0.6" />
<line x1="231.1" y1="410.82" x2="232.7" y2="410.82" stroke="#f0f0f0" stroke-width="0.55" />
<line x1="231.29999999999998" y1="410.82" x2="229.9" y2="410.82" stroke="#0b0b0b" stroke-width="0.6" />
<line x1="231.1" y1="408.24" x2="232.7" y2="408.24" stroke="#f0f0f0" stroke-width="0.55" />
<line x1="231.29999999999998" y1="408.24" x2="229.9" y2="408.24" stroke="#0b0b0b" stroke-width="0.6" />
<line x1="231.1" y1="406.23" x2="232.7" y2="406.23" stroke="#f0f0f0" stroke-width="0.55" />
<line x1="231.29999999999998" y1="406.23" x2="229.9" y2="406.23" stroke="#0b0b0b" stroke-width="0.6" />
<line x1="231.1" y1="404.59" x2="232.7" y2="404.59" stroke="#f0f0f0" stroke-width="0.55" />
<line x1="231.29999999999998" y1="404.59" x2="229.9" y2="404.59" stroke="#0b0b0b" stroke-width="0.6" />
<line x1="231.1" y1="403.21" x2="232.7" y2="403.21" stroke="#f0f0f0" stroke-width="0.55" />
<line x1="231.29999999999998" y1="403.21" x2="229.9" y2="403.21" stroke="#0b0b0b" stroke-width="0.6" />
<line x1="231.1" y1="402.01" x2="232.7" y2="402.01" stroke="#f0f0f0" stroke-width="0.55" />
<line x1="231.29999999999998" y1="402.01" x2="229.9" y2="402.01" stroke="#0b0b0b" stroke-width="0.6" />
<line x1="231.1" y1="400.95" x2="232.7" y2="400.95" stroke="#f0f0f0" stroke-width="0.55" />
<line x1="231.29999999999998" y1="400.95" x2="229.9" y2="400.95" stroke="#0b0b0b" stroke-width="0.6" />
<line x1="231.1" y1="400.0" x2="234.1" y2="400.0" stroke="#f0f0f0" stroke-width="0.55" />
<line x1="231.29999999999998" y1="400.0" x2="228.7" y2="400.0" stroke="#0b0b0b" stroke-width="0.6" />
<line x1="231.1" y1="393.77" x2="232.7" y2="393.77" stroke="#f0f0f0" stroke-width="0.55" />
<line x1="231.29999999999998" y1="393.77" x2="229.9" y2="393.77" stroke="#0b0b0b" stroke-width="0.6" />
<line x1="231.1" y1="390.12" x2="232.7" y2="390.12" stroke="#f0f0f0" stroke-width="0.55" />
<line x1="231.29999999999998" y1="390.12" x2="229.9" y2="390.12" stroke="#0b0b0b" stroke-width="0.6" />
<line x1="231.1" y1="387.54" x2="232.7" y2="387.54" stroke="#f0f0f0" stroke-width="0.55" />
<line x1="231.29999999999998" y1="387.54" x2="229.9" y2="387.54" stroke="#0b0b0b" stroke-width="0.6" />
<line x1="231.1" y1="385.53" x2="232.7" y2="385.53" stroke="#f0f0f0" stroke-width="0.55" />
<line x1="231.29999999999998" y1="385.53" x2="229.9" y2="385.53" stroke="#0b0b0b" stroke-width="0.6" />
<line x1="231.1" y1="383.89" x2="232.7" y2="383.89" stroke="#f0f0f0" stroke-width="0.55" />
<line x1="231.29999999999998" y1="383.89" x2="229.9" y2="383.89" stroke="#0b0b0b" stroke-width="0.6" />
<line x1="231.1" y1="382.51" x2="232.7" y2="382.51" stroke="#f0f0f0" stroke-width="0.55" />
<line x1="231.29999999999998" y1="382.51" x2="229.9" y2="382.51" stroke="#0b0b0b" stroke-width="0.6" />
<line x1="231.1" y1="381.31" x2="232.7" y2="381.31" stroke="#f0f0f0" stroke-width="0.55" />
<line x1="231.29999999999998" y1="381.31" x2="229.9" y2="381.31" stroke="#0b0b0b" stroke-width="0.6" />
<line x1="231.1" y1="380.25" x2="232.7" y2="380.25" stroke="#f0f0f0" stroke-width="0.55" />
<line x1="231.29999999999998" y1="380.25" x2="229.9" y2="380.25" stroke="#0b0b0b" stroke-width="0.6" />
<line x1="231.1" y1="379.3" x2="234.1" y2="379.3" stroke="#f0f0f0" stroke-width="0.55" />
<line x1="231.29999999999998" y1="379.3" x2="228.7" y2="379.3" stroke="#0b0b0b" stroke-width="0.6" />
<line x1="231.1" y1="373.07" x2="232.7" y2="373.07" stroke="#f0f0f0" stroke-width="0.55" />
<line x1="231.29999999999998" y1="373.07" x2="229.9" y2="373.07" stroke="#0b0b0b" stroke-width="0.6" />
<line x1="282.5" y1="397.5" x2="247.5" y2="366" stroke="#8a8a8a" stroke-width="1.0" />
<polygon points="246.61,365.20 249.83,371.19 252.90,367.77" fill="#8a8a8a"/>
<text x="149.3" y="368.6" font-size="6.8" text-anchor="middle">Control</text>
<text x="196.3" y="363" font-size="7" textLength="40.7" lengthAdjust="spacingAndGlyphs">CD138<tspan font-size="4.4" dy="-2.6">+</tspan><tspan dy="2.6"> MM</tspan></text>
<text x="288.5" y="368.6" font-size="6.95" text-anchor="middle">SB-699551: 0.5µM</text>
<text x="90.9" y="379.2" font-size="7.4" text-anchor="middle" transform="rotate(-90 90.9 379.2)">10<tspan font-size="4.59" dy="-2.8">5</tspan></text>
<text x="90.9" y="400.0" font-size="7.4" text-anchor="middle" transform="rotate(-90 90.9 400.0)">10<tspan font-size="4.59" dy="-2.8">4</tspan></text>
<text x="90.9" y="420.8" font-size="7.4" text-anchor="middle" transform="rotate(-90 90.9 420.8)">10<tspan font-size="4.59" dy="-2.8">3</tspan></text>
<text x="90.9" y="441.6" font-size="7.4" text-anchor="middle" transform="rotate(-90 90.9 441.6)">10<tspan font-size="4.59" dy="-2.8">2</tspan></text>
<text x="222.9" y="379.2" font-size="7.4" text-anchor="middle" transform="rotate(-90 222.9 379.2)">10<tspan font-size="4.59" dy="-2.8">5</tspan></text>
<text x="222.9" y="400.0" font-size="7.4" text-anchor="middle" transform="rotate(-90 222.9 400.0)">10<tspan font-size="4.59" dy="-2.8">4</tspan></text>
<text x="222.9" y="420.8" font-size="7.4" text-anchor="middle" transform="rotate(-90 222.9 420.8)">10<tspan font-size="4.59" dy="-2.8">3</tspan></text>
<text x="222.9" y="441.6" font-size="7.4" text-anchor="middle" transform="rotate(-90 222.9 441.6)">10<tspan font-size="4.59" dy="-2.8">2</tspan></text>
<text x="114.7" y="466.9" font-size="7.1" text-anchor="middle">10<tspan font-size="4.40" dy="-2.8">2</tspan></text>
<text x="140.45" y="466.9" font-size="7.1" text-anchor="middle">10<tspan font-size="4.40" dy="-2.8">3</tspan></text>
<text x="166.45" y="466.9" font-size="7.1" text-anchor="middle">10<tspan font-size="4.40" dy="-2.8">4</tspan></text>
<text x="191.7" y="466.9" font-size="7.1" text-anchor="middle">10<tspan font-size="4.40" dy="-2.8">5</tspan></text>
<text x="246.45" y="466.9" font-size="7.1" text-anchor="middle">10<tspan font-size="4.40" dy="-2.8">2</tspan></text>
<text x="271.7" y="466.9" font-size="7.1" text-anchor="middle">10<tspan font-size="4.40" dy="-2.8">3</tspan></text>
<text x="297.7" y="466.9" font-size="7.1" text-anchor="middle">10<tspan font-size="4.40" dy="-2.8">4</tspan></text>
<text x="324.2" y="466.9" font-size="7.1" text-anchor="middle">10<tspan font-size="4.40" dy="-2.8">5</tspan></text>
<line x1="77.1" y1="471.4" x2="77.1" y2="414" stroke="#111" stroke-width="1.3" />
<polygon points="77.1,408.6 74.1,417 77.1,415.3 80.1,417" fill="#111"/>
<line x1="76.45" y1="471.4" x2="136" y2="471.4" stroke="#111" stroke-width="1.3" />
<polygon points="141.8,471.4 133.4,468.4 135.1,471.4 133.4,474.4" fill="#111"/>
<text x="70" y="439.5" font-size="7.1" text-anchor="middle" transform="rotate(-90 70 439.5)">Cell tracker green</text>
<text x="110.5" y="481.2" font-size="7" text-anchor="middle">SSC-A</text>
<rect x="391.30" y="380.60" width="13.80" height="72.20" fill="#c8102e" />
<line x1="398.2" y1="378.073" x2="398.2" y2="383.127" stroke="#3a3a3a" stroke-width="0.7" />
<line x1="395.7" y1="378.073" x2="400.7" y2="378.073" stroke="#3a3a3a" stroke-width="0.7" />
<rect x="432.50" y="404.06" width="14.30" height="48.73" fill="#0f4a8a" />
<line x1="439.6" y1="397.206" x2="439.6" y2="410.202" stroke="#3a3a3a" stroke-width="0.7" />
<line x1="436.85" y1="397.206" x2="442.35" y2="397.206" stroke="#3a3a3a" stroke-width="0.7" />
<line x1="436.90000000000003" y1="410.202" x2="442.3" y2="410.202" stroke="#1c2c4c" stroke-width="0.7" />
<line x1="383.8" y1="378.5" x2="383.8" y2="453.2" stroke="#231f20" stroke-width="1" />
<line x1="383.3" y1="452.8" x2="450" y2="452.8" stroke="#231f20" stroke-width="1" />
<line x1="380.8" y1="452.8" x2="383.8" y2="452.8" stroke="#231f20" stroke-width="0.9" />
<text transform="translate(377.2 455.40000000000003) scale(0.93 1)" font-size="7.3" text-anchor="end">0</text>
<line x1="380.8" y1="416.7" x2="383.8" y2="416.7" stroke="#231f20" stroke-width="0.9" />
<text transform="translate(377.2 419.3) scale(0.93 1)" font-size="7.3" text-anchor="end">50</text>
<line x1="380.8" y1="380.6" x2="383.8" y2="380.6" stroke="#231f20" stroke-width="0.9" />
<text transform="translate(377.2 383.20000000000005) scale(0.93 1)" font-size="7.3" text-anchor="end">100</text>
<line x1="398.2" y1="452.8" x2="398.2" y2="455.8" stroke="#231f20" stroke-width="0.9" />
<line x1="439.6" y1="452.8" x2="439.6" y2="455.8" stroke="#231f20" stroke-width="0.9" />
<text transform="translate(358.4 415.4) rotate(-90)" font-size="9.4" text-anchor="middle" textLength="45" lengthAdjust="spacingAndGlyphs">% Viable cells</text>
<text x="398.2" y="466.6" font-size="6.8" text-anchor="middle">Control</text>
<text x="439.6" y="466.6" font-size="6.8" text-anchor="middle">SB699551</text>
<text x="439.6" y="474.8" font-size="6.8" text-anchor="middle">(0.5 µM)</text>
<path d="M398.3 372.5V367H439.5V372.5" stroke="#231f20" stroke-width="0.6" fill="none" />
<text x="419.3" y="362.5" font-size="6.8" text-anchor="middle">P = .004</text>
<text x="87.6" y="510.3" font-size="12.8" font-weight="bold" fill="#000">G</text>
<rect x="136.30" y="514.00" width="121.20" height="9.90" fill="#787878" />
<text x="196.9" y="521.8" font-size="7" text-anchor="middle" font-weight="bold" fill="#fff" textLength="23.5" lengthAdjust="spacingAndGlyphs">MM.1S</text>
<defs><pattern id="hat" width="2.4" height="2.4" patternUnits="userSpaceOnUse" patternTransform="rotate(-35)"><rect width="2.4" height="2.4" fill="#e6e3e1"/><rect width="2.4" height="0.8" fill="#d3cfcd"/></pattern><radialGradient id="tum" cx="0.45" cy="0.4" r="0.6"><stop offset="0" stop-color="#ee8288"/><stop offset="0.65" stop-color="#df5c68"/><stop offset="1" stop-color="#b43a48"/></radialGradient><filter id="b1"><feGaussianBlur stdDeviation="0.5"/></filter></defs>
<rect x="137.80" y="545.00" width="49.40" height="25.50" fill="url(#hat)" />
<g filter="url(#b1)"><ellipse cx="147" cy="559" rx="9" ry="4" fill="#c9a9a6" opacity="0.6"/><ellipse cx="148.3" cy="553.2" rx="9.2" ry="7.3" fill="url(#tum)"/><ellipse cx="178.9" cy="553" rx="4.9" ry="5.4" fill="url(#tum)"/><ellipse cx="151" cy="549.5" rx="3" ry="1.6" fill="#f6b0b0" opacity="0.7"/><ellipse cx="148" cy="555.5" rx="0.7" ry="1.7" fill="#8a1c2c"/><ellipse cx="179.3" cy="552.5" rx="0.6" ry="1.4" fill="#7a1c28"/></g>
<rect x="137.80" y="564.60" width="49.40" height="2.50" fill="#2a2624" />
<rect x="137.80" y="567.10" width="49.40" height="3.40" fill="#b5aea8" />
<line x1="139.0" y1="567.1" x2="139.0" y2="569.4" stroke="#3a3430" stroke-width="0.8" />
<line x1="142.9" y1="567.1" x2="142.9" y2="569.4" stroke="#3a3430" stroke-width="0.8" />
<line x1="146.8" y1="567.1" x2="146.8" y2="569.4" stroke="#3a3430" stroke-width="0.8" />
<line x1="150.7" y1="567.1" x2="150.7" y2="569.4" stroke="#3a3430" stroke-width="0.8" />
<line x1="154.6" y1="567.1" x2="154.6" y2="569.4" stroke="#3a3430" stroke-width="0.8" />
<line x1="158.5" y1="567.1" x2="158.5" y2="569.4" stroke="#3a3430" stroke-width="0.8" />
<line x1="162.4" y1="567.1" x2="162.4" y2="569.4" stroke="#3a3430" stroke-width="0.8" />
<line x1="166.3" y1="567.1" x2="166.3" y2="569.4" stroke="#3a3430" stroke-width="0.8" />
<line x1="170.2" y1="567.1" x2="170.2" y2="569.4" stroke="#3a3430" stroke-width="0.8" />
<line x1="174.1" y1="567.1" x2="174.1" y2="569.4" stroke="#3a3430" stroke-width="0.8" />
<line x1="178.0" y1="567.1" x2="178.0" y2="569.4" stroke="#3a3430" stroke-width="0.8" />
<line x1="181.9" y1="567.1" x2="181.9" y2="569.4" stroke="#3a3430" stroke-width="0.8" />
<line x1="185.8" y1="567.1" x2="185.8" y2="569.4" stroke="#3a3430" stroke-width="0.8" />
<line x1="153.35" y1="610.176" x2="153.35" y2="611.172" stroke="#5c82b5" stroke-width="0.7" />
<line x1="151.95" y1="610.176" x2="154.75" y2="610.176" stroke="#5c82b5" stroke-width="0.7" />
<line x1="151.95" y1="611.172" x2="154.75" y2="611.172" stroke="#5c82b5" stroke-width="0.7" />
<line x1="165.75" y1="609.512" x2="165.75" y2="610.84" stroke="#5c82b5" stroke-width="0.7" />
<line x1="164.35" y1="609.512" x2="167.15" y2="609.512" stroke="#5c82b5" stroke-width="0.7" />
<line x1="164.35" y1="610.84" x2="167.15" y2="610.84" stroke="#5c82b5" stroke-width="0.7" />
<line x1="178.15" y1="608.848" x2="178.15" y2="610.508" stroke="#5c82b5" stroke-width="0.7" />
<line x1="176.75" y1="608.848" x2="179.55" y2="608.848" stroke="#5c82b5" stroke-width="0.7" />
<line x1="176.75" y1="610.508" x2="179.55" y2="610.508" stroke="#5c82b5" stroke-width="0.7" />
<line x1="190.55" y1="606.5904" x2="190.55" y2="609.9104" stroke="#5c82b5" stroke-width="0.7" />
<line x1="189.15" y1="606.5904" x2="191.95000000000002" y2="606.5904" stroke="#5c82b5" stroke-width="0.7" />
<line x1="189.15" y1="609.9104" x2="191.95000000000002" y2="609.9104" stroke="#5c82b5" stroke-width="0.7" />
<line x1="202.95" y1="603.0048" x2="202.95" y2="609.512" stroke="#5c82b5" stroke-width="0.7" />
<line x1="201.54999999999998" y1="603.0048" x2="204.35" y2="603.0048" stroke="#5c82b5" stroke-width="0.7" />
<line x1="201.54999999999998" y1="609.512" x2="204.35" y2="609.512" stroke="#5c82b5" stroke-width="0.7" />
<line x1="221.55" y1="596.2652" x2="221.55" y2="608.7484" stroke="#5c82b5" stroke-width="0.7" />
<line x1="220.15" y1="596.2652" x2="222.95000000000002" y2="596.2652" stroke="#5c82b5" stroke-width="0.7" />
<line x1="220.15" y1="608.7484" x2="222.95000000000002" y2="608.7484" stroke="#5c82b5" stroke-width="0.7" />
<line x1="233.95" y1="593.7752" x2="233.95" y2="607.022" stroke="#5c82b5" stroke-width="0.7" />
<line x1="232.54999999999998" y1="593.7752" x2="235.35" y2="593.7752" stroke="#5c82b5" stroke-width="0.7" />
<line x1="232.54999999999998" y1="607.022" x2="235.35" y2="607.022" stroke="#5c82b5" stroke-width="0.7" />
<line x1="246.35000000000002" y1="584.9772" x2="246.35000000000002" y2="606.7232" stroke="#5c82b5" stroke-width="0.7" />
<line x1="244.95000000000002" y1="584.9772" x2="247.75000000000003" y2="584.9772" stroke="#5c82b5" stroke-width="0.7" />
<line x1="244.95000000000002" y1="606.7232" x2="247.75000000000003" y2="606.7232" stroke="#5c82b5" stroke-width="0.7" />
<line x1="258.75" y1="579.9972" x2="258.75" y2="607.4868" stroke="#5c82b5" stroke-width="0.7" />
<line x1="257.35" y1="579.9972" x2="260.15" y2="579.9972" stroke="#5c82b5" stroke-width="0.7" />
<line x1="257.35" y1="607.4868" x2="260.15" y2="607.4868" stroke="#5c82b5" stroke-width="0.7" />
<line x1="153.35" y1="609.844" x2="153.35" y2="611.172" stroke="#dc5a72" stroke-width="0.7" />
<line x1="151.95" y1="609.844" x2="154.75" y2="609.844" stroke="#dc5a72" stroke-width="0.7" />
<line x1="151.95" y1="611.172" x2="154.75" y2="611.172" stroke="#dc5a72" stroke-width="0.7" />
<line x1="165.75" y1="609.014" x2="165.75" y2="610.674" stroke="#dc5a72" stroke-width="0.7" />
<line x1="164.35" y1="609.014" x2="167.15" y2="609.014" stroke="#dc5a72" stroke-width="0.7" />
<line x1="164.35" y1="610.674" x2="167.15" y2="610.674" stroke="#dc5a72" stroke-width="0.7" />
<line x1="178.15" y1="608.35" x2="178.15" y2="610.342" stroke="#dc5a72" stroke-width="0.7" />
<line x1="176.75" y1="608.35" x2="179.55" y2="608.35" stroke="#dc5a72" stroke-width="0.7" />
<line x1="176.75" y1="610.342" x2="179.55" y2="610.342" stroke="#dc5a72" stroke-width="0.7" />
<line x1="190.55" y1="603.5028" x2="190.55" y2="607.4868" stroke="#dc5a72" stroke-width="0.7" />
<line x1="189.15" y1="603.5028" x2="191.95000000000002" y2="603.5028" stroke="#dc5a72" stroke-width="0.7" />
<line x1="189.15" y1="607.4868" x2="191.95000000000002" y2="607.4868" stroke="#dc5a72" stroke-width="0.7" />
<line x1="202.95" y1="594.2732" x2="202.95" y2="604.2332" stroke="#dc5a72" stroke-width="0.7" />
<line x1="201.54999999999998" y1="594.2732" x2="204.35" y2="594.2732" stroke="#dc5a72" stroke-width="0.7" />
<line x1="201.54999999999998" y1="604.2332" x2="204.35" y2="604.2332" stroke="#dc5a72" stroke-width="0.7" />
<line x1="221.55" y1="589.4924" x2="221.55" y2="599.4856" stroke="#dc5a72" stroke-width="0.7" />
<line x1="220.15" y1="589.4924" x2="222.95000000000002" y2="589.4924" stroke="#dc5a72" stroke-width="0.7" />
<line x1="220.15" y1="599.4856" x2="222.95000000000002" y2="599.4856" stroke="#dc5a72" stroke-width="0.7" />
<line x1="233.95" y1="574.5192" x2="233.95" y2="597.5268" stroke="#dc5a72" stroke-width="0.7" />
<line x1="232.54999999999998" y1="574.5192" x2="235.35" y2="574.5192" stroke="#dc5a72" stroke-width="0.7" />
<line x1="232.54999999999998" y1="597.5268" x2="235.35" y2="597.5268" stroke="#dc5a72" stroke-width="0.7" />
<line x1="246.35000000000002" y1="562.5008" x2="246.35000000000002" y2="592.5136" stroke="#dc5a72" stroke-width="0.7" />
<line x1="244.95000000000002" y1="562.5008" x2="247.75000000000003" y2="562.5008" stroke="#dc5a72" stroke-width="0.7" />
<line x1="244.95000000000002" y1="592.5136" x2="247.75000000000003" y2="592.5136" stroke="#dc5a72" stroke-width="0.7" />
<line x1="258.75" y1="532.986" x2="258.75" y2="579.9972" stroke="#dc5a72" stroke-width="0.7" />
<line x1="257.35" y1="532.986" x2="260.15" y2="532.986" stroke="#dc5a72" stroke-width="0.7" />
<line x1="257.35" y1="579.9972" x2="260.15" y2="579.9972" stroke="#dc5a72" stroke-width="0.7" />
<polyline points="140.9,612.5 153.3,610.7 165.8,610.2 178.2,609.7 190.6,608.3 202.9,606.3 221.6,602.0 233.9,600.5 246.4,596.2 258.8,594.2" fill="none" stroke="#0f4a8a" stroke-width="1.1"/>
<polyline points="140.9,612.5 153.3,610.5 165.8,609.8 178.2,609.3 190.6,605.5 202.9,599.3 221.6,594.2 233.9,585.5 246.4,577.0 258.8,555.8" fill="none" stroke="#c8102e" stroke-width="1.1"/>
<circle cx="140.9" cy="612.5" r="1.45" fill="#0f4a8a"/>
<circle cx="153.3" cy="610.7" r="1.45" fill="#0f4a8a"/>
<circle cx="165.8" cy="610.2" r="1.45" fill="#0f4a8a"/>
<circle cx="178.2" cy="609.7" r="1.45" fill="#0f4a8a"/>
<circle cx="190.6" cy="608.3" r="1.45" fill="#0f4a8a"/>
<circle cx="202.9" cy="606.3" r="1.45" fill="#0f4a8a"/>
<circle cx="221.6" cy="602.0" r="1.45" fill="#0f4a8a"/>
<circle cx="233.9" cy="600.5" r="1.45" fill="#0f4a8a"/>
<circle cx="246.4" cy="596.2" r="1.45" fill="#0f4a8a"/>
<circle cx="258.8" cy="594.2" r="1.45" fill="#0f4a8a"/>
<circle cx="140.9" cy="612.5" r="1.45" fill="#c8102e"/>
<circle cx="153.3" cy="610.5" r="1.45" fill="#c8102e"/>
<circle cx="165.8" cy="609.8" r="1.45" fill="#c8102e"/>
<circle cx="178.2" cy="609.3" r="1.45" fill="#c8102e"/>
<circle cx="190.6" cy="605.5" r="1.45" fill="#c8102e"/>
<circle cx="202.9" cy="599.3" r="1.45" fill="#c8102e"/>
<circle cx="221.6" cy="594.2" r="1.45" fill="#c8102e"/>
<circle cx="233.9" cy="585.5" r="1.45" fill="#c8102e"/>
<circle cx="246.4" cy="577.0" r="1.45" fill="#c8102e"/>
<circle cx="258.8" cy="555.8" r="1.45" fill="#c8102e"/>
<line x1="134.5" y1="528" x2="134.5" y2="612.9" stroke="#231f20" stroke-width="1" />
<line x1="134.0" y1="612.5" x2="262" y2="612.5" stroke="#231f20" stroke-width="1" />
<line x1="131.5" y1="612.5" x2="134.5" y2="612.5" stroke="#231f20" stroke-width="0.9" />
<text transform="translate(127.9 615.2) scale(0.93 1)" font-size="7.6" text-anchor="end">0</text>
<line x1="131.5" y1="595.9" x2="134.5" y2="595.9" stroke="#231f20" stroke-width="0.9" />
<text transform="translate(127.9 598.6) scale(0.93 1)" font-size="7.6" text-anchor="end">500</text>
<line x1="131.5" y1="579.3" x2="134.5" y2="579.3" stroke="#231f20" stroke-width="0.9" />
<text transform="translate(127.9 582.0) scale(0.93 1)" font-size="7.6" text-anchor="end">1000</text>
<line x1="131.5" y1="562.7" x2="134.5" y2="562.7" stroke="#231f20" stroke-width="0.9" />
<text transform="translate(127.9 565.4000000000001) scale(0.93 1)" font-size="7.6" text-anchor="end">1500</text>
<line x1="131.5" y1="546.1" x2="134.5" y2="546.1" stroke="#231f20" stroke-width="0.9" />
<text transform="translate(127.9 548.8000000000001) scale(0.93 1)" font-size="7.6" text-anchor="end">2000</text>
<line x1="131.5" y1="529.5" x2="134.5" y2="529.5" stroke="#231f20" stroke-width="0.9" />
<text transform="translate(127.9 532.2) scale(0.93 1)" font-size="7.6" text-anchor="end">2500</text>
<line x1="134.75" y1="612.5" x2="134.75" y2="615.5" stroke="#231f20" stroke-width="0.9" />
<text transform="translate(134.75 625.6) scale(0.93 1)" font-size="7.6" text-anchor="middle">0</text>
<line x1="165.75" y1="612.5" x2="165.75" y2="615.5" stroke="#231f20" stroke-width="0.9" />
<text transform="translate(165.75 625.6) scale(0.93 1)" font-size="7.6" text-anchor="middle">5</text>
<line x1="196.75" y1="612.5" x2="196.75" y2="615.5" stroke="#231f20" stroke-width="0.9" />
<text transform="translate(196.75 625.6) scale(0.93 1)" font-size="7.6" text-anchor="middle">10</text>
<line x1="227.75" y1="612.5" x2="227.75" y2="615.5" stroke="#231f20" stroke-width="0.9" />
<text transform="translate(227.75 625.6) scale(0.93 1)" font-size="7.6" text-anchor="middle">15</text>
<line x1="258.75" y1="612.5" x2="258.75" y2="615.5" stroke="#231f20" stroke-width="0.9" />
<text transform="translate(258.75 625.6) scale(0.93 1)" font-size="7.6" text-anchor="middle">20</text>
<text transform="translate(196.8 639)" font-size="9.4" text-anchor="middle" textLength="15.5" lengthAdjust="spacingAndGlyphs">Days</text>
<text transform="translate(106.1 570) rotate(-90)" font-size="9.4" text-anchor="middle" textLength="71" lengthAdjust="spacingAndGlyphs">Tumor volume (mm<tspan font-size="5.8" dy="-3.2">3</tspan><tspan dy="3.2">)</tspan></text>
<line x1="137" y1="540.8" x2="146.3" y2="540.8" stroke="#c8102e" stroke-width="1.1" />
<circle cx="141.6" cy="540.8" r="1.45" fill="#c8102e"/>
<text x="151.3" y="543.3" font-size="7">Control</text>
<line x1="174.5" y1="540.8" x2="184.8" y2="540.8" stroke="#0f4a8a" stroke-width="1.1" />
<circle cx="179.6" cy="540.8" r="1.45" fill="#0f4a8a"/>
<text x="189.5" y="543.3" font-size="7.15">SB699551 (20mg/kg)</text>
<text x="190" y="568.8" font-size="7"><tspan font-style="italic">P</tspan> &lt; .001</text>
<line x1="134.5" y1="646" x2="134.5" y2="727.6999999999999" stroke="#231f20" stroke-width="1" />
<line x1="134.0" y1="727.3" x2="257.5" y2="727.3" stroke="#231f20" stroke-width="1" />
<line x1="131.5" y1="727.3" x2="134.5" y2="727.3" stroke="#231f20" stroke-width="0.9" />
<text transform="translate(127.9 730.0) scale(0.93 1)" font-size="7.6" text-anchor="end">0</text>
<line x1="131.5" y1="700.5999999999999" x2="134.5" y2="700.5999999999999" stroke="#231f20" stroke-width="0.9" />
<text transform="translate(127.9 703.3) scale(0.93 1)" font-size="7.6" text-anchor="end">50</text>
<line x1="131.5" y1="673.9" x2="134.5" y2="673.9" stroke="#231f20" stroke-width="0.9" />
<text transform="translate(127.9 676.6) scale(0.93 1)" font-size="7.6" text-anchor="end">100</text>
<line x1="131.5" y1="647.1999999999999" x2="134.5" y2="647.1999999999999" stroke="#231f20" stroke-width="0.9" />
<text transform="translate(127.9 649.9) scale(0.93 1)" font-size="7.6" text-anchor="end">150</text>
<line x1="134.5" y1="727.3" x2="134.5" y2="730.3" stroke="#231f20" stroke-width="0.9" />
<text transform="translate(134.5 740.1999999999999) scale(0.93 1)" font-size="7.6" text-anchor="middle">0</text>
<line x1="174.5" y1="727.3" x2="174.5" y2="730.3" stroke="#231f20" stroke-width="0.9" />
<text transform="translate(174.5 740.1999999999999) scale(0.93 1)" font-size="7.6" text-anchor="middle">20</text>
<line x1="214.5" y1="727.3" x2="214.5" y2="730.3" stroke="#231f20" stroke-width="0.9" />
<text transform="translate(214.5 740.1999999999999) scale(0.93 1)" font-size="7.6" text-anchor="middle">40</text>
<line x1="254.5" y1="727.3" x2="254.5" y2="730.3" stroke="#231f20" stroke-width="0.9" />
<text transform="translate(254.5 740.1999999999999) scale(0.93 1)" font-size="7.6" text-anchor="middle">60</text>
<text transform="translate(196.8 753)" font-size="9.4" text-anchor="middle" textLength="15.5" lengthAdjust="spacingAndGlyphs">Days</text>
<text transform="translate(110.5 685.8) rotate(-90)" font-size="9.4" text-anchor="middle" textLength="71.4" lengthAdjust="spacingAndGlyphs">Probability of survival</text>
<path d="M174.5 674.434V680.5749999999999H186.9V693.925H200.5V700.5999999999999H214.9V707.275H234.5" stroke="#0f4a8a" stroke-width="1.0" fill="none" />
<line x1="234.5" y1="705.975" x2="234.5" y2="708.5749999999999" stroke="#0f4a8a" stroke-width="0.9" />
<path d="M134.5 673.9H174.5V687.25H178.7V700.5999999999999H186.9V713.9499999999999H193.1V727.3" stroke="#c8102e" stroke-width="1.0" fill="none" />
<line x1="140.8" y1="651" x2="148.8" y2="651" stroke="#c8102e" stroke-width="1.1" />
<line x1="144.8" y1="649.6" x2="144.8" y2="652.4" stroke="#c8102e" stroke-width="0.9" />
<text x="152.5" y="653.5" font-size="7">Control</text>
<line x1="183.8" y1="651" x2="191.8" y2="651" stroke="#0f4a8a" stroke-width="1.1" />
<line x1="187.8" y1="649.6" x2="187.8" y2="652.4" stroke="#0f4a8a" stroke-width="0.9" />
<text x="195.5" y="653.5" font-size="7.15">SB699551 (20mg/kg)</text>
<text x="145" y="666" font-size="7"><tspan font-style="italic">P</tspan> &lt; .05</text>
<defs><filter id="bl05" x="-30%" y="-60%" width="160%" height="220%"><feGaussianBlur stdDeviation="0.55"/></filter><filter id="bl1" x="-30%" y="-60%" width="160%" height="220%"><feGaussianBlur stdDeviation="0.9"/></filter><filter id="bl15" x="-30%" y="-80%" width="160%" height="260%"><feGaussianBlur stdDeviation="1.3"/></filter><filter id="bl2" x="-30%" y="-30%" width="160%" height="160%"><feGaussianBlur stdDeviation="1.8"/></filter><filter id="bl3" x="-40%" y="-30%" width="180%" height="160%"><feGaussianBlur stdDeviation="3"/></filter><linearGradient id="k48" x1="0" y1="0" x2="0" y2="1"><stop offset="0" stop-color="#000" stop-opacity="0.2"/><stop offset="0.2" stop-color="#000" stop-opacity="0.95"/><stop offset="0.5" stop-color="#000" stop-opacity="0.85"/><stop offset="0.8" stop-color="#000" stop-opacity="0.6"/><stop offset="1" stop-color="#000" stop-opacity="0.2"/></linearGradient></defs>
<rect x="295.50" y="514.00" width="102.30" height="9.90" fill="#787878" />
<text x="346.5" y="521.8" font-size="7" text-anchor="middle" font-weight="bold" fill="#fff" textLength="47" lengthAdjust="spacingAndGlyphs">Tumor section</text>
<text x="321.3" y="532.6" font-size="7" text-anchor="middle">CT</text>
<text x="371.8" y="532.6" font-size="7" text-anchor="middle">SB699551</text>
<line x1="299.5" y1="534.3" x2="344.5" y2="534.3" stroke="#231f20" stroke-width="0.95" />
<line x1="349.5" y1="534.3" x2="395" y2="534.3" stroke="#231f20" stroke-width="0.95" />
<text x="284.3" y="543.3" font-size="6.6">kDa</text>
<text x="305.8" y="543.3" font-size="6.6" text-anchor="middle">#1</text>
<text x="321.3" y="543.3" font-size="6.6" text-anchor="middle">#2</text>
<text x="339.3" y="543.3" font-size="6.6" text-anchor="middle">#3</text>
<text x="353.8" y="543.3" font-size="6.6" text-anchor="middle">#1</text>
<text x="370" y="543.3" font-size="6.6" text-anchor="middle">#2</text>
<text x="387" y="543.3" font-size="6.6" text-anchor="middle">#3</text>
<text x="291.8" y="553.0" font-size="6.9" text-anchor="end">35</text>
<line x1="293.6" y1="550.5" x2="298" y2="550.5" stroke="#231f20" stroke-width="0.8" />
<text x="291.8" y="589.5" font-size="6.9" text-anchor="end">19</text>
<line x1="293.6" y1="587" x2="298" y2="587" stroke="#231f20" stroke-width="0.8" />
<text x="291.8" y="598.8" font-size="6.9" text-anchor="end">17</text>
<line x1="293.6" y1="596.3" x2="298" y2="596.3" stroke="#231f20" stroke-width="0.8" />
<text x="291.8" y="615.8" font-size="6.9" text-anchor="end">47</text>
<line x1="293.6" y1="613.3" x2="298" y2="613.3" stroke="#231f20" stroke-width="0.8" />
<text x="291.8" y="630.0" font-size="6.9" text-anchor="end">37</text>
<line x1="293.6" y1="627.5" x2="298" y2="627.5" stroke="#231f20" stroke-width="0.8" />
<text x="291.8" y="644.8" font-size="6.9" text-anchor="end">42</text>
<line x1="293.6" y1="642.3" x2="298" y2="642.3" stroke="#231f20" stroke-width="0.8" />
<text x="291.8" y="669.8" font-size="6.9" text-anchor="end">250</text>
<line x1="293.6" y1="667.3" x2="298" y2="667.3" stroke="#231f20" stroke-width="0.8" />
<text x="291.8" y="702.3" font-size="6.9" text-anchor="end">100</text>
<line x1="293.6" y1="699.8" x2="298" y2="699.8" stroke="#231f20" stroke-width="0.8" />
<text x="291.8" y="734.8" font-size="6.9" text-anchor="end">42</text>
<line x1="293.6" y1="732.3" x2="298" y2="732.3" stroke="#231f20" stroke-width="0.8" />
<clipPath id="cb1"><rect x="298.6" y="546.1" width="96" height="57.4"/></clipPath>
<rect x="298.60" y="546.10" width="96.00" height="57.40" fill="#dcdcdc" />
<g clip-path="url(#cb1)">
<rect x="345" y="552.1" width="52" height="57.4" fill="#000" opacity="0.15" filter="url(#bl3)"/>
<rect x="299.5" y="556.1" width="13" height="47.4" fill="#000" opacity="0.06" filter="url(#bl2)"/>
<rect x="315.1" y="556.1" width="13" height="47.4" fill="#000" opacity="0.07" filter="url(#bl2)"/>
<rect x="348.0" y="556.1" width="13" height="47.4" fill="#000" opacity="0.08" filter="url(#bl2)"/>
<rect x="363.9" y="556.1" width="13" height="47.4" fill="#000" opacity="0.15" filter="url(#bl2)"/>
<rect x="379.8" y="556.1" width="13" height="47.4" fill="#000" opacity="0.1" filter="url(#bl2)"/>
<ellipse cx="338" cy="563" rx="7" ry="6" fill="#fff" opacity="0.7" filter="url(#bl2)"/>
<ellipse cx="306" cy="563" rx="7" ry="6" fill="#000" opacity="0.12" filter="url(#bl2)"/>
<rect x="299.75" y="576.70" width="12.5" height="2.6" rx="1.30" fill="#000" opacity="0.03" filter="url(#bl15)"/>
<rect x="299.75" y="583.90" width="12.5" height="3.4" rx="1.70" fill="#000" opacity="0.06" filter="url(#bl15)"/>
<rect x="299.75" y="593.90" width="12.5" height="3.2" rx="1.60" fill="#000" opacity="0.08" filter="url(#bl15)"/>
<rect x="315.35" y="576.70" width="12.5" height="2.6" rx="1.30" fill="#000" opacity="0.07" filter="url(#bl15)"/>
<rect x="315.35" y="583.90" width="12.5" height="3.4" rx="1.70" fill="#000" opacity="0.11" filter="url(#bl15)"/>
<rect x="315.35" y="593.90" width="12.5" height="3.2" rx="1.60" fill="#000" opacity="0.12" filter="url(#bl15)"/>
<rect x="331.55" y="576.70" width="12.5" height="2.6" rx="1.30" fill="#000" opacity="0.04" filter="url(#bl15)"/>
<rect x="331.55" y="583.90" width="12.5" height="3.4" rx="1.70" fill="#000" opacity="0.1" filter="url(#bl15)"/>
<rect x="331.55" y="593.90" width="12.5" height="3.2" rx="1.60" fill="#000" opacity="0.09" filter="url(#bl15)"/>
<rect x="348.25" y="576.70" width="12.5" height="2.6" rx="1.30" fill="#000" opacity="0.14" filter="url(#bl15)"/>
<rect x="348.25" y="583.90" width="12.5" height="3.4" rx="1.70" fill="#000" opacity="0.3" filter="url(#bl15)"/>
<rect x="348.25" y="593.90" width="12.5" height="3.2" rx="1.60" fill="#000" opacity="0.2" filter="url(#bl15)"/>
<rect x="364.15" y="576.70" width="12.5" height="2.6" rx="1.30" fill="#000" opacity="0.24" filter="url(#bl15)"/>
<rect x="364.15" y="583.90" width="12.5" height="3.4" rx="1.70" fill="#000" opacity="0.36" filter="url(#bl15)"/>
<rect x="364.15" y="593.90" width="12.5" height="3.2" rx="1.60" fill="#000" opacity="0.4" filter="url(#bl15)"/>
<rect x="380.05" y="576.70" width="12.5" height="2.6" rx="1.30" fill="#000" opacity="0.16" filter="url(#bl15)"/>
<rect x="380.05" y="583.90" width="12.5" height="3.4" rx="1.70" fill="#000" opacity="0.28" filter="url(#bl15)"/>
<rect x="380.05" y="593.90" width="12.5" height="3.2" rx="1.60" fill="#000" opacity="0.24" filter="url(#bl15)"/>
<rect x="349.00" y="566.20" width="11" height="2.6" rx="1.30" fill="#000" opacity="0.1" filter="url(#bl15)"/>
<rect x="349.00" y="571.60" width="11" height="2.4" rx="1.20" fill="#000" opacity="0.08000000000000002" filter="url(#bl15)"/>
<rect x="364.90" y="566.20" width="11" height="2.6" rx="1.30" fill="#000" opacity="0.2" filter="url(#bl15)"/>
<rect x="364.90" y="571.60" width="11" height="2.4" rx="1.20" fill="#000" opacity="0.16000000000000003" filter="url(#bl15)"/>
<rect x="380.80" y="566.20" width="11" height="2.6" rx="1.30" fill="#000" opacity="0.12" filter="url(#bl15)"/>
<rect x="380.80" y="571.60" width="11" height="2.4" rx="1.20" fill="#000" opacity="0.096" filter="url(#bl15)"/>
<ellipse cx="306" cy="552.45" rx="7.8" ry="8.35" fill="#050505" filter="url(#bl1)"/>
<rect x="298.0" y="544.1" width="16.0" height="7" fill="#050505" filter="url(#bl05)"/>
<ellipse cx="321.6" cy="550.95" rx="7.5" ry="6.85" fill="#050505" filter="url(#bl1)"/>
<rect x="313.90000000000003" y="544.1" width="15.4" height="7" fill="#050505" filter="url(#bl05)"/>
<ellipse cx="337.8" cy="549.95" rx="7.6" ry="5.85" fill="#050505" filter="url(#bl1)"/>
<rect x="330.0" y="544.1" width="15.6" height="7" fill="#050505" filter="url(#bl05)"/>
<ellipse cx="354.5" cy="551.20" rx="7.75" ry="7.10" fill="#050505" filter="url(#bl1)"/>
<rect x="346.55" y="544.1" width="15.9" height="7" fill="#050505" filter="url(#bl05)"/>
<ellipse cx="370.4" cy="551.60" rx="7.6" ry="7.50" fill="#050505" filter="url(#bl1)"/>
<rect x="362.59999999999997" y="544.1" width="15.6" height="7" fill="#050505" filter="url(#bl05)"/>
<ellipse cx="386.3" cy="551.95" rx="7.7" ry="7.85" fill="#050505" filter="url(#bl1)"/>
<rect x="378.40000000000003" y="544.1" width="15.8" height="7" fill="#050505" filter="url(#bl05)"/>
</g>
<rect x="298.6" y="546.1" width="96" height="57.4" fill="none" stroke="#0a0a0a" stroke-width="1.15"/>
<clipPath id="cb2"><rect x="298.6" y="606.3" width="96" height="27.4"/></clipPath>
<rect x="298.60" y="606.30" width="96.00" height="27.40" fill="#f1f1f1" />
<g clip-path="url(#cb2)">
<rect x="298.6" y="617.3" width="96" height="7" fill="#000" opacity="0.05" filter="url(#bl2)"/>
<rect x="299.75" y="609.40" width="15.5" height="9.6" rx="4.80" fill="#0a0a0a" opacity="1" filter="url(#bl1)"/>
<rect x="317.55" y="611.20" width="11.5" height="3.6" rx="1.80" fill="#0a0a0a" opacity="0.82" filter="url(#bl1)" transform="rotate(-6 323.3 613)"/>
<rect x="334.00" y="611.10" width="11" height="3" rx="1.50" fill="#0a0a0a" opacity="0.72" filter="url(#bl1)" transform="rotate(-3 339.5 612.6)"/>
<rect x="348.55" y="610.60" width="13.5" height="5.6" rx="2.80" fill="#0a0a0a" opacity="1" filter="url(#bl1)"/>
<rect x="365.00" y="611.20" width="12" height="4.8" rx="2.40" fill="#0a0a0a" opacity="0.95" filter="url(#bl1)"/>
<rect x="380.05" y="610.40" width="13.5" height="5.6" rx="2.80" fill="#0a0a0a" opacity="0.97" filter="url(#bl1)"/>
<rect x="302.00" y="624.90" width="10" height="3" rx="1.50" fill="#0a0a0a" opacity="0.22" filter="url(#bl1)"/>
<rect x="317.05" y="624.30" width="12.5" height="4.2" rx="2.10" fill="#0a0a0a" opacity="0.5" filter="url(#bl1)"/>
<rect x="335.50" y="625.60" width="8" height="2" rx="1.00" fill="#0a0a0a" opacity="0.12" filter="url(#bl1)"/>
<rect x="348.30" y="621.30" width="14" height="6.6" rx="3.30" fill="#0a0a0a" opacity="1" filter="url(#bl1)"/>
<rect x="364.75" y="622.00" width="13.5" height="6.4" rx="3.20" fill="#0a0a0a" opacity="1" filter="url(#bl1)"/>
<rect x="380.05" y="623.10" width="13.5" height="4.6" rx="2.30" fill="#0a0a0a" opacity="0.72" filter="url(#bl1)"/>
<rect x="348.80" y="628.00" width="13" height="4" rx="2.00" fill="#000" opacity="0.18" filter="url(#bl2)"/>
<rect x="365.00" y="628.00" width="13" height="4" rx="2.00" fill="#000" opacity="0.22" filter="url(#bl2)"/>
<rect x="380.30" y="628.00" width="13" height="4" rx="2.00" fill="#000" opacity="0.28" filter="url(#bl2)"/>
<rect x="316.80" y="628.00" width="13" height="4" rx="2.00" fill="#000" opacity="0.1" filter="url(#bl2)"/>
</g>
<rect x="298.6" y="606.3" width="96" height="27.4" fill="none" stroke="#0a0a0a" stroke-width="1.15"/>
<clipPath id="cb3"><rect x="298.6" y="636.4" width="96" height="12.3"/></clipPath>
<rect x="298.60" y="636.40" width="96.00" height="12.30" fill="#d6d6d6" />
<g clip-path="url(#cb3)">
<rect x="300.75" y="641.40" width="12.5" height="3.6" rx="1.80" fill="#0a0a0a" opacity="0.765" filter="url(#bl1)"/>
<rect x="300.50" y="642.00" width="13" height="5" rx="2.50" fill="#000" opacity="0.1" filter="url(#bl1)"/>
<rect x="316.55" y="641.30" width="12.5" height="3.8000000000000003" rx="1.90" fill="#0a0a0a" opacity="0.738" filter="url(#bl1)" transform="rotate(-5 322.8 643.2)"/>
<rect x="316.30" y="642.00" width="13" height="5" rx="2.50" fill="#000" opacity="0.1" filter="url(#bl1)"/>
<rect x="332.75" y="641.60" width="12.5" height="3.2" rx="1.60" fill="#0a0a0a" opacity="0.54" filter="url(#bl1)" transform="rotate(-3 339 643.2)"/>
<rect x="332.50" y="642.00" width="13" height="5" rx="2.50" fill="#000" opacity="0.1" filter="url(#bl1)"/>
<rect x="348.25" y="641.60" width="12.5" height="3.2" rx="1.60" fill="#0a0a0a" opacity="0.54" filter="url(#bl1)"/>
<rect x="348.00" y="642.00" width="13" height="5" rx="2.50" fill="#000" opacity="0.1" filter="url(#bl1)"/>
<rect x="364.15" y="641.70" width="12.5" height="3.0" rx="1.50" fill="#0a0a0a" opacity="0.49500000000000005" filter="url(#bl1)" transform="rotate(-3 370.4 643.2)"/>
<rect x="363.90" y="642.00" width="13" height="5" rx="2.50" fill="#000" opacity="0.1" filter="url(#bl1)"/>
<rect x="380.35" y="641.40" width="12.5" height="3.6" rx="1.80" fill="#0a0a0a" opacity="0.765" filter="url(#bl1)" transform="rotate(-4 386.6 643.2)"/>
<rect x="380.10" y="642.00" width="13" height="5" rx="2.50" fill="#000" opacity="0.1" filter="url(#bl1)"/>
</g>
<rect x="298.6" y="636.4" width="96" height="12.3" fill="none" stroke="#0a0a0a" stroke-width="1.15"/>
<clipPath id="cb4"><rect x="298.6" y="651.8" width="96" height="71.2"/></clipPath>
<rect x="298.60" y="651.80" width="96.00" height="71.20" fill="#e6e6e6" />
<g clip-path="url(#cb4)">
<rect x="300.2" y="654.8" width="13.6" height="63.2" fill="url(#k48)" opacity="0.2" filter="url(#bl15)"/>
<rect x="316.0" y="654.8" width="13.6" height="63.2" fill="url(#k48)" opacity="0.4" filter="url(#bl15)"/>
<rect x="332.2" y="654.8" width="13.6" height="63.2" fill="url(#k48)" opacity="0.43" filter="url(#bl15)"/>
<rect x="347.7" y="654.8" width="13.6" height="63.2" fill="url(#k48)" opacity="0.55" filter="url(#bl15)"/>
<rect x="363.59999999999997" y="654.8" width="13.6" height="63.2" fill="url(#k48)" opacity="0.64" filter="url(#bl15)"/>
<rect x="379.8" y="654.8" width="13.6" height="63.2" fill="url(#k48)" opacity="0.86" filter="url(#bl15)"/>
<ellipse cx="387.5" cy="682" rx="4.6" ry="17" fill="#000" opacity="0.8" filter="url(#bl2)"/>
<ellipse cx="371" cy="676" rx="4.6" ry="12" fill="#000" opacity="0.25" filter="url(#bl2)"/>
</g>
<rect x="298.6" y="651.8" width="96" height="71.2" fill="none" stroke="#0a0a0a" stroke-width="1.15"/>
<clipPath id="cb5"><rect x="298.6" y="726.5" width="96" height="12"/></clipPath>
<rect x="298.60" y="726.50" width="96.00" height="12.00" fill="#cdcdcd" />
<g clip-path="url(#cb5)">
<rect x="300.50" y="730.50" width="13" height="3.5999999999999996" rx="1.80" fill="#0a0a0a" opacity="0.874" filter="url(#bl1)"/>
<rect x="300.25" y="730.70" width="13.5" height="5" rx="2.50" fill="#000" opacity="0.12" filter="url(#bl1)"/>
<rect x="316.30" y="730.50" width="13" height="3.5999999999999996" rx="1.80" fill="#0a0a0a" opacity="0.874" filter="url(#bl1)"/>
<rect x="316.05" y="730.70" width="13.5" height="5" rx="2.50" fill="#000" opacity="0.12" filter="url(#bl1)"/>
<rect x="332.50" y="730.50" width="13" height="3.5999999999999996" rx="1.80" fill="#0a0a0a" opacity="0.855" filter="url(#bl1)"/>
<rect x="332.25" y="730.70" width="13.5" height="5" rx="2.50" fill="#000" opacity="0.12" filter="url(#bl1)"/>
<rect x="348.00" y="730.50" width="13" height="3.5999999999999996" rx="1.80" fill="#0a0a0a" opacity="0.9025" filter="url(#bl1)"/>
<rect x="347.75" y="730.70" width="13.5" height="5" rx="2.50" fill="#000" opacity="0.12" filter="url(#bl1)"/>
<rect x="363.90" y="730.70" width="13" height="3.2" rx="1.60" fill="#0a0a0a" opacity="0.8075" filter="url(#bl1)"/>
<rect x="363.65" y="730.70" width="13.5" height="5" rx="2.50" fill="#000" opacity="0.12" filter="url(#bl1)"/>
<rect x="380.10" y="730.70" width="13" height="3.2" rx="1.60" fill="#0a0a0a" opacity="0.8075" filter="url(#bl1)"/>
<rect x="379.85" y="730.70" width="13.5" height="5" rx="2.50" fill="#000" opacity="0.12" filter="url(#bl1)"/>
</g>
<rect x="298.6" y="726.5" width="96" height="12" fill="none" stroke="#0a0a0a" stroke-width="1.15"/>
<text x="397.5" y="554.4" font-size="6.9">Caspase 3-FL</text>
<path d="M398.6 584.6H400.2V595H398.6" stroke="#231f20" stroke-width="0.6" fill="none" />
<text x="402.3" y="592" font-size="6.9">Caspase 3-CF</text>
<text x="397.5" y="615.5" font-size="6.9">Caspase 9-FL</text>
<text x="397.5" y="627.6" font-size="6.9">Caspase 9-CF</text>
<text x="397.5" y="645" font-size="6.9">β-actin</text>
<text x="397.5" y="734.8" font-size="6.9">β-actin</text>
<line x1="397.6" y1="658.5" x2="397.6" y2="720.5" stroke="#444" stroke-width="0.9" />
<text x="405.2" y="690.2" font-size="7.1" text-anchor="middle" transform="rotate(-90 405.2 690.2)">K48-polyU</text>
</g></svg></body></html>
